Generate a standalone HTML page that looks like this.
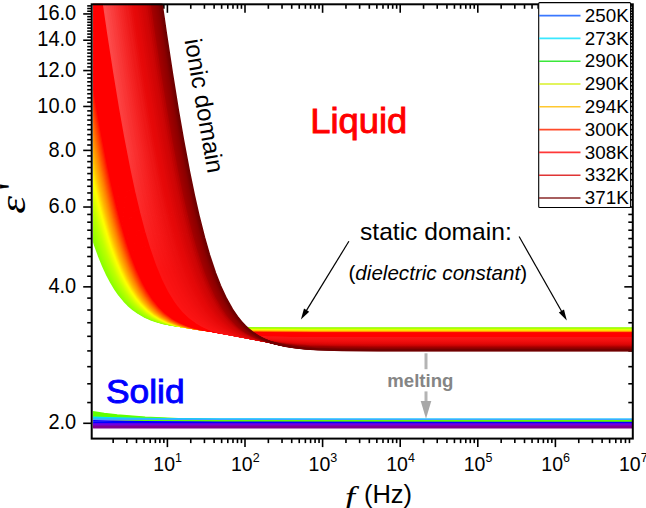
<!DOCTYPE html>
<html><head><meta charset="utf-8"><style>html,body{margin:0;padding:0;background:#fff;width:646px;height:508px;overflow:hidden}svg{display:block}</style></head>
<body><svg width="646" height="508" viewBox="0 0 646 508">
<defs><linearGradient id="hg0" gradientUnits="userSpaceOnUse" x1="0" y1="0" x2="0" y2="340"><stop offset="0" stop-color="#fd4f4f"/><stop offset="0.45" stop-color="#fc3a3a"/><stop offset="0.8" stop-color="#fc1414"/></linearGradient><linearGradient id="hg1" gradientUnits="userSpaceOnUse" x1="0" y1="0" x2="0" y2="340"><stop offset="0" stop-color="#fb4a4a"/><stop offset="0.45" stop-color="#fb3737"/><stop offset="0.8" stop-color="#fa1313"/></linearGradient><linearGradient id="hg2" gradientUnits="userSpaceOnUse" x1="0" y1="0" x2="0" y2="340"><stop offset="0" stop-color="#fb4646"/><stop offset="0.45" stop-color="#fb3434"/><stop offset="0.8" stop-color="#fa1313"/></linearGradient><linearGradient id="hg3" gradientUnits="userSpaceOnUse" x1="0" y1="0" x2="0" y2="340"><stop offset="0" stop-color="#f94141"/><stop offset="0.45" stop-color="#f93030"/><stop offset="0.8" stop-color="#f81212"/></linearGradient><linearGradient id="hg4" gradientUnits="userSpaceOnUse" x1="0" y1="0" x2="0" y2="340"><stop offset="0" stop-color="#f93d3d"/><stop offset="0.45" stop-color="#f92e2e"/><stop offset="0.8" stop-color="#f81212"/></linearGradient><linearGradient id="hg5" gradientUnits="userSpaceOnUse" x1="0" y1="0" x2="0" y2="340"><stop offset="0" stop-color="#f73838"/><stop offset="0.45" stop-color="#f72a2a"/><stop offset="0.8" stop-color="#f61111"/></linearGradient><linearGradient id="hg6" gradientUnits="userSpaceOnUse" x1="0" y1="0" x2="0" y2="340"><stop offset="0" stop-color="#f73333"/><stop offset="0.45" stop-color="#f72727"/><stop offset="0.8" stop-color="#f61111"/></linearGradient><linearGradient id="hg7" gradientUnits="userSpaceOnUse" x1="0" y1="0" x2="0" y2="340"><stop offset="0" stop-color="#f52e2e"/><stop offset="0.45" stop-color="#f52424"/><stop offset="0.8" stop-color="#f41010"/></linearGradient><linearGradient id="hg8" gradientUnits="userSpaceOnUse" x1="0" y1="0" x2="0" y2="340"><stop offset="0" stop-color="#f42929"/><stop offset="0.45" stop-color="#f42020"/><stop offset="0.8" stop-color="#f30f0f"/></linearGradient><linearGradient id="hg9" gradientUnits="userSpaceOnUse" x1="0" y1="0" x2="0" y2="340"><stop offset="0" stop-color="#f22525"/><stop offset="0.45" stop-color="#f21d1d"/><stop offset="0.8" stop-color="#f10f0f"/></linearGradient><linearGradient id="hg10" gradientUnits="userSpaceOnUse" x1="0" y1="0" x2="0" y2="340"><stop offset="0" stop-color="#f02020"/><stop offset="0.45" stop-color="#f01a1a"/><stop offset="0.8" stop-color="#ef0e0e"/></linearGradient><linearGradient id="hg11" gradientUnits="userSpaceOnUse" x1="0" y1="0" x2="0" y2="340"><stop offset="0" stop-color="#ee1b1b"/><stop offset="0.45" stop-color="#ee1616"/><stop offset="0.8" stop-color="#ed0d0d"/></linearGradient><linearGradient id="hg12" gradientUnits="userSpaceOnUse" x1="0" y1="0" x2="0" y2="340"><stop offset="0" stop-color="#ec1515"/><stop offset="0.45" stop-color="#eb1212"/><stop offset="0.8" stop-color="#eb0c0c"/></linearGradient><linearGradient id="hg13" gradientUnits="userSpaceOnUse" x1="0" y1="0" x2="0" y2="340"><stop offset="0" stop-color="#e90f0f"/><stop offset="0.45" stop-color="#e90d0d"/><stop offset="0.8" stop-color="#e90a0a"/></linearGradient><linearGradient id="hg14" gradientUnits="userSpaceOnUse" x1="0" y1="0" x2="0" y2="340"><stop offset="0" stop-color="#e70a0a"/><stop offset="0.45" stop-color="#e70909"/><stop offset="0.8" stop-color="#e70909"/></linearGradient><linearGradient id="hg15" gradientUnits="userSpaceOnUse" x1="0" y1="0" x2="0" y2="340"><stop offset="0" stop-color="#e50808"/><stop offset="0.45" stop-color="#e50808"/><stop offset="0.8" stop-color="#e50808"/></linearGradient><linearGradient id="hg16" gradientUnits="userSpaceOnUse" x1="0" y1="0" x2="0" y2="340"><stop offset="0" stop-color="#e20808"/><stop offset="0.45" stop-color="#e20808"/><stop offset="0.8" stop-color="#e20808"/></linearGradient><linearGradient id="hg17" gradientUnits="userSpaceOnUse" x1="0" y1="0" x2="0" y2="340"><stop offset="0" stop-color="#dd0707"/><stop offset="0.45" stop-color="#dd0707"/><stop offset="0.8" stop-color="#dd0707"/></linearGradient><linearGradient id="hg18" gradientUnits="userSpaceOnUse" x1="0" y1="0" x2="0" y2="340"><stop offset="0" stop-color="#d90606"/><stop offset="0.45" stop-color="#d90606"/><stop offset="0.8" stop-color="#d90606"/></linearGradient><linearGradient id="hg19" gradientUnits="userSpaceOnUse" x1="0" y1="0" x2="0" y2="340"><stop offset="0" stop-color="#d40505"/><stop offset="0.45" stop-color="#d40505"/><stop offset="0.8" stop-color="#d40505"/></linearGradient><linearGradient id="hg20" gradientUnits="userSpaceOnUse" x1="0" y1="0" x2="0" y2="340"><stop offset="0" stop-color="#d00505"/><stop offset="0.45" stop-color="#d00505"/><stop offset="0.8" stop-color="#d00505"/></linearGradient><linearGradient id="hg21" gradientUnits="userSpaceOnUse" x1="0" y1="0" x2="0" y2="340"><stop offset="0" stop-color="#ca0404"/><stop offset="0.45" stop-color="#ca0404"/><stop offset="0.8" stop-color="#ca0404"/></linearGradient><linearGradient id="hg22" gradientUnits="userSpaceOnUse" x1="0" y1="0" x2="0" y2="340"><stop offset="0" stop-color="#c00202"/><stop offset="0.45" stop-color="#c00202"/><stop offset="0.8" stop-color="#c00202"/></linearGradient><linearGradient id="hg23" gradientUnits="userSpaceOnUse" x1="0" y1="0" x2="0" y2="340"><stop offset="0" stop-color="#b50101"/><stop offset="0.45" stop-color="#b50101"/><stop offset="0.8" stop-color="#b50101"/></linearGradient><clipPath id="pc"><rect x="93.10000000000001" y="3.8" width="539.6999999999999" height="433.8"/></clipPath></defs>
<rect width="646" height="508" fill="#fff"/>
<g stroke="#000" stroke-width="1.6"><line x1="113.16" y1="438.60" x2="113.16" y2="443.10"/><line x1="113.16" y1="4.30" x2="113.16" y2="8.80"/><line x1="126.82" y1="438.60" x2="126.82" y2="443.10"/><line x1="126.82" y1="4.30" x2="126.82" y2="8.80"/><line x1="136.52" y1="438.60" x2="136.52" y2="443.10"/><line x1="136.52" y1="4.30" x2="136.52" y2="8.80"/><line x1="144.04" y1="438.60" x2="144.04" y2="443.10"/><line x1="144.04" y1="4.30" x2="144.04" y2="8.80"/><line x1="150.18" y1="438.60" x2="150.18" y2="443.10"/><line x1="150.18" y1="4.30" x2="150.18" y2="8.80"/><line x1="155.38" y1="438.60" x2="155.38" y2="443.10"/><line x1="155.38" y1="4.30" x2="155.38" y2="8.80"/><line x1="159.88" y1="438.60" x2="159.88" y2="443.10"/><line x1="159.88" y1="4.30" x2="159.88" y2="8.80"/><line x1="163.85" y1="438.60" x2="163.85" y2="443.10"/><line x1="163.85" y1="4.30" x2="163.85" y2="8.80"/><line x1="167.40" y1="438.60" x2="167.40" y2="447.10"/><line x1="167.40" y1="4.30" x2="167.40" y2="12.80"/><line x1="190.76" y1="438.60" x2="190.76" y2="443.10"/><line x1="190.76" y1="4.30" x2="190.76" y2="8.80"/><line x1="204.42" y1="438.60" x2="204.42" y2="443.10"/><line x1="204.42" y1="4.30" x2="204.42" y2="8.80"/><line x1="214.12" y1="438.60" x2="214.12" y2="443.10"/><line x1="214.12" y1="4.30" x2="214.12" y2="8.80"/><line x1="221.64" y1="438.60" x2="221.64" y2="443.10"/><line x1="221.64" y1="4.30" x2="221.64" y2="8.80"/><line x1="227.78" y1="438.60" x2="227.78" y2="443.10"/><line x1="227.78" y1="4.30" x2="227.78" y2="8.80"/><line x1="232.98" y1="438.60" x2="232.98" y2="443.10"/><line x1="232.98" y1="4.30" x2="232.98" y2="8.80"/><line x1="237.48" y1="438.60" x2="237.48" y2="443.10"/><line x1="237.48" y1="4.30" x2="237.48" y2="8.80"/><line x1="241.45" y1="438.60" x2="241.45" y2="443.10"/><line x1="241.45" y1="4.30" x2="241.45" y2="8.80"/><line x1="245.00" y1="438.60" x2="245.00" y2="447.10"/><line x1="245.00" y1="4.30" x2="245.00" y2="12.80"/><line x1="268.36" y1="438.60" x2="268.36" y2="443.10"/><line x1="268.36" y1="4.30" x2="268.36" y2="8.80"/><line x1="282.02" y1="438.60" x2="282.02" y2="443.10"/><line x1="282.02" y1="4.30" x2="282.02" y2="8.80"/><line x1="291.72" y1="438.60" x2="291.72" y2="443.10"/><line x1="291.72" y1="4.30" x2="291.72" y2="8.80"/><line x1="299.24" y1="438.60" x2="299.24" y2="443.10"/><line x1="299.24" y1="4.30" x2="299.24" y2="8.80"/><line x1="305.38" y1="438.60" x2="305.38" y2="443.10"/><line x1="305.38" y1="4.30" x2="305.38" y2="8.80"/><line x1="310.58" y1="438.60" x2="310.58" y2="443.10"/><line x1="310.58" y1="4.30" x2="310.58" y2="8.80"/><line x1="315.08" y1="438.60" x2="315.08" y2="443.10"/><line x1="315.08" y1="4.30" x2="315.08" y2="8.80"/><line x1="319.05" y1="438.60" x2="319.05" y2="443.10"/><line x1="319.05" y1="4.30" x2="319.05" y2="8.80"/><line x1="322.60" y1="438.60" x2="322.60" y2="447.10"/><line x1="322.60" y1="4.30" x2="322.60" y2="12.80"/><line x1="345.96" y1="438.60" x2="345.96" y2="443.10"/><line x1="345.96" y1="4.30" x2="345.96" y2="8.80"/><line x1="359.62" y1="438.60" x2="359.62" y2="443.10"/><line x1="359.62" y1="4.30" x2="359.62" y2="8.80"/><line x1="369.32" y1="438.60" x2="369.32" y2="443.10"/><line x1="369.32" y1="4.30" x2="369.32" y2="8.80"/><line x1="376.84" y1="438.60" x2="376.84" y2="443.10"/><line x1="376.84" y1="4.30" x2="376.84" y2="8.80"/><line x1="382.98" y1="438.60" x2="382.98" y2="443.10"/><line x1="382.98" y1="4.30" x2="382.98" y2="8.80"/><line x1="388.18" y1="438.60" x2="388.18" y2="443.10"/><line x1="388.18" y1="4.30" x2="388.18" y2="8.80"/><line x1="392.68" y1="438.60" x2="392.68" y2="443.10"/><line x1="392.68" y1="4.30" x2="392.68" y2="8.80"/><line x1="396.65" y1="438.60" x2="396.65" y2="443.10"/><line x1="396.65" y1="4.30" x2="396.65" y2="8.80"/><line x1="400.20" y1="438.60" x2="400.20" y2="447.10"/><line x1="400.20" y1="4.30" x2="400.20" y2="12.80"/><line x1="423.56" y1="438.60" x2="423.56" y2="443.10"/><line x1="423.56" y1="4.30" x2="423.56" y2="8.80"/><line x1="437.22" y1="438.60" x2="437.22" y2="443.10"/><line x1="437.22" y1="4.30" x2="437.22" y2="8.80"/><line x1="446.92" y1="438.60" x2="446.92" y2="443.10"/><line x1="446.92" y1="4.30" x2="446.92" y2="8.80"/><line x1="454.44" y1="438.60" x2="454.44" y2="443.10"/><line x1="454.44" y1="4.30" x2="454.44" y2="8.80"/><line x1="460.58" y1="438.60" x2="460.58" y2="443.10"/><line x1="460.58" y1="4.30" x2="460.58" y2="8.80"/><line x1="465.78" y1="438.60" x2="465.78" y2="443.10"/><line x1="465.78" y1="4.30" x2="465.78" y2="8.80"/><line x1="470.28" y1="438.60" x2="470.28" y2="443.10"/><line x1="470.28" y1="4.30" x2="470.28" y2="8.80"/><line x1="474.25" y1="438.60" x2="474.25" y2="443.10"/><line x1="474.25" y1="4.30" x2="474.25" y2="8.80"/><line x1="477.80" y1="438.60" x2="477.80" y2="447.10"/><line x1="477.80" y1="4.30" x2="477.80" y2="12.80"/><line x1="501.16" y1="438.60" x2="501.16" y2="443.10"/><line x1="501.16" y1="4.30" x2="501.16" y2="8.80"/><line x1="514.82" y1="438.60" x2="514.82" y2="443.10"/><line x1="514.82" y1="4.30" x2="514.82" y2="8.80"/><line x1="524.52" y1="438.60" x2="524.52" y2="443.10"/><line x1="524.52" y1="4.30" x2="524.52" y2="8.80"/><line x1="532.04" y1="438.60" x2="532.04" y2="443.10"/><line x1="532.04" y1="4.30" x2="532.04" y2="8.80"/><line x1="538.18" y1="438.60" x2="538.18" y2="443.10"/><line x1="538.18" y1="4.30" x2="538.18" y2="8.80"/><line x1="543.38" y1="438.60" x2="543.38" y2="443.10"/><line x1="543.38" y1="4.30" x2="543.38" y2="8.80"/><line x1="547.88" y1="438.60" x2="547.88" y2="443.10"/><line x1="547.88" y1="4.30" x2="547.88" y2="8.80"/><line x1="551.85" y1="438.60" x2="551.85" y2="443.10"/><line x1="551.85" y1="4.30" x2="551.85" y2="8.80"/><line x1="555.40" y1="438.60" x2="555.40" y2="447.10"/><line x1="555.40" y1="4.30" x2="555.40" y2="12.80"/><line x1="578.76" y1="438.60" x2="578.76" y2="443.10"/><line x1="578.76" y1="4.30" x2="578.76" y2="8.80"/><line x1="592.42" y1="438.60" x2="592.42" y2="443.10"/><line x1="592.42" y1="4.30" x2="592.42" y2="8.80"/><line x1="602.12" y1="438.60" x2="602.12" y2="443.10"/><line x1="602.12" y1="4.30" x2="602.12" y2="8.80"/><line x1="609.64" y1="438.60" x2="609.64" y2="443.10"/><line x1="609.64" y1="4.30" x2="609.64" y2="8.80"/><line x1="615.78" y1="438.60" x2="615.78" y2="443.10"/><line x1="615.78" y1="4.30" x2="615.78" y2="8.80"/><line x1="620.98" y1="438.60" x2="620.98" y2="443.10"/><line x1="620.98" y1="4.30" x2="620.98" y2="8.80"/><line x1="625.48" y1="438.60" x2="625.48" y2="443.10"/><line x1="625.48" y1="4.30" x2="625.48" y2="8.80"/><line x1="629.45" y1="438.60" x2="629.45" y2="443.10"/><line x1="629.45" y1="4.30" x2="629.45" y2="8.80"/><line x1="83.20" y1="423.30" x2="91.70" y2="423.30"/><line x1="632.80" y1="423.30" x2="624.30" y2="423.30"/><line x1="87.20" y1="402.56" x2="91.70" y2="402.56"/><line x1="632.80" y1="402.56" x2="628.30" y2="402.56"/><line x1="87.20" y1="383.80" x2="91.70" y2="383.80"/><line x1="632.80" y1="383.80" x2="628.30" y2="383.80"/><line x1="87.20" y1="366.67" x2="91.70" y2="366.67"/><line x1="632.80" y1="366.67" x2="628.30" y2="366.67"/><line x1="87.20" y1="350.91" x2="91.70" y2="350.91"/><line x1="632.80" y1="350.91" x2="628.30" y2="350.91"/><line x1="87.20" y1="336.32" x2="91.70" y2="336.32"/><line x1="632.80" y1="336.32" x2="628.30" y2="336.32"/><line x1="87.20" y1="322.74" x2="91.70" y2="322.74"/><line x1="632.80" y1="322.74" x2="628.30" y2="322.74"/><line x1="87.20" y1="310.03" x2="91.70" y2="310.03"/><line x1="632.80" y1="310.03" x2="628.30" y2="310.03"/><line x1="87.20" y1="298.10" x2="91.70" y2="298.10"/><line x1="632.80" y1="298.10" x2="628.30" y2="298.10"/><line x1="83.20" y1="286.85" x2="91.70" y2="286.85"/><line x1="632.80" y1="286.85" x2="624.30" y2="286.85"/><line x1="87.20" y1="276.20" x2="91.70" y2="276.20"/><line x1="632.80" y1="276.20" x2="628.30" y2="276.20"/><line x1="87.20" y1="266.10" x2="91.70" y2="266.10"/><line x1="632.80" y1="266.10" x2="628.30" y2="266.10"/><line x1="87.20" y1="256.50" x2="91.70" y2="256.50"/><line x1="632.80" y1="256.50" x2="628.30" y2="256.50"/><line x1="87.20" y1="247.34" x2="91.70" y2="247.34"/><line x1="632.80" y1="247.34" x2="628.30" y2="247.34"/><line x1="87.20" y1="238.59" x2="91.70" y2="238.59"/><line x1="632.80" y1="238.59" x2="628.30" y2="238.59"/><line x1="87.20" y1="230.21" x2="91.70" y2="230.21"/><line x1="632.80" y1="230.21" x2="628.30" y2="230.21"/><line x1="87.20" y1="222.18" x2="91.70" y2="222.18"/><line x1="632.80" y1="222.18" x2="628.30" y2="222.18"/><line x1="87.20" y1="214.45" x2="91.70" y2="214.45"/><line x1="632.80" y1="214.45" x2="628.30" y2="214.45"/><line x1="83.20" y1="207.02" x2="91.70" y2="207.02"/><line x1="632.80" y1="207.02" x2="624.30" y2="207.02"/><line x1="87.20" y1="199.86" x2="91.70" y2="199.86"/><line x1="632.80" y1="199.86" x2="628.30" y2="199.86"/><line x1="87.20" y1="192.96" x2="91.70" y2="192.96"/><line x1="632.80" y1="192.96" x2="628.30" y2="192.96"/><line x1="87.20" y1="186.28" x2="91.70" y2="186.28"/><line x1="632.80" y1="186.28" x2="628.30" y2="186.28"/><line x1="87.20" y1="179.83" x2="91.70" y2="179.83"/><line x1="632.80" y1="179.83" x2="628.30" y2="179.83"/><line x1="87.20" y1="173.58" x2="91.70" y2="173.58"/><line x1="632.80" y1="173.58" x2="628.30" y2="173.58"/><line x1="87.20" y1="167.52" x2="91.70" y2="167.52"/><line x1="632.80" y1="167.52" x2="628.30" y2="167.52"/><line x1="87.20" y1="161.64" x2="91.70" y2="161.64"/><line x1="632.80" y1="161.64" x2="628.30" y2="161.64"/><line x1="87.20" y1="155.94" x2="91.70" y2="155.94"/><line x1="632.80" y1="155.94" x2="628.30" y2="155.94"/><line x1="83.20" y1="150.39" x2="91.70" y2="150.39"/><line x1="632.80" y1="150.39" x2="624.30" y2="150.39"/><line x1="87.20" y1="145.00" x2="91.70" y2="145.00"/><line x1="632.80" y1="145.00" x2="628.30" y2="145.00"/><line x1="87.20" y1="139.75" x2="91.70" y2="139.75"/><line x1="632.80" y1="139.75" x2="628.30" y2="139.75"/><line x1="87.20" y1="134.63" x2="91.70" y2="134.63"/><line x1="632.80" y1="134.63" x2="628.30" y2="134.63"/><line x1="87.20" y1="129.65" x2="91.70" y2="129.65"/><line x1="632.80" y1="129.65" x2="628.30" y2="129.65"/><line x1="87.20" y1="124.79" x2="91.70" y2="124.79"/><line x1="632.80" y1="124.79" x2="628.30" y2="124.79"/><line x1="87.20" y1="120.04" x2="91.70" y2="120.04"/><line x1="632.80" y1="120.04" x2="628.30" y2="120.04"/><line x1="87.20" y1="115.41" x2="91.70" y2="115.41"/><line x1="632.80" y1="115.41" x2="628.30" y2="115.41"/><line x1="87.20" y1="110.88" x2="91.70" y2="110.88"/><line x1="632.80" y1="110.88" x2="628.30" y2="110.88"/><line x1="83.20" y1="106.46" x2="91.70" y2="106.46"/><line x1="632.80" y1="106.46" x2="624.30" y2="106.46"/><line x1="87.20" y1="102.13" x2="91.70" y2="102.13"/><line x1="632.80" y1="102.13" x2="628.30" y2="102.13"/><line x1="87.20" y1="97.90" x2="91.70" y2="97.90"/><line x1="632.80" y1="97.90" x2="628.30" y2="97.90"/><line x1="87.20" y1="93.75" x2="91.70" y2="93.75"/><line x1="632.80" y1="93.75" x2="628.30" y2="93.75"/><line x1="87.20" y1="89.70" x2="91.70" y2="89.70"/><line x1="632.80" y1="89.70" x2="628.30" y2="89.70"/><line x1="87.20" y1="85.72" x2="91.70" y2="85.72"/><line x1="632.80" y1="85.72" x2="628.30" y2="85.72"/><line x1="87.20" y1="81.82" x2="91.70" y2="81.82"/><line x1="632.80" y1="81.82" x2="628.30" y2="81.82"/><line x1="87.20" y1="78.00" x2="91.70" y2="78.00"/><line x1="632.80" y1="78.00" x2="628.30" y2="78.00"/><line x1="87.20" y1="74.25" x2="91.70" y2="74.25"/><line x1="632.80" y1="74.25" x2="628.30" y2="74.25"/><line x1="83.20" y1="70.57" x2="91.70" y2="70.57"/><line x1="632.80" y1="70.57" x2="624.30" y2="70.57"/><line x1="87.20" y1="66.95" x2="91.70" y2="66.95"/><line x1="632.80" y1="66.95" x2="628.30" y2="66.95"/><line x1="87.20" y1="63.41" x2="91.70" y2="63.41"/><line x1="632.80" y1="63.41" x2="628.30" y2="63.41"/><line x1="87.20" y1="59.92" x2="91.70" y2="59.92"/><line x1="632.80" y1="59.92" x2="628.30" y2="59.92"/><line x1="87.20" y1="56.50" x2="91.70" y2="56.50"/><line x1="632.80" y1="56.50" x2="628.30" y2="56.50"/><line x1="87.20" y1="53.13" x2="91.70" y2="53.13"/><line x1="632.80" y1="53.13" x2="628.30" y2="53.13"/><line x1="87.20" y1="49.83" x2="91.70" y2="49.83"/><line x1="632.80" y1="49.83" x2="628.30" y2="49.83"/><line x1="87.20" y1="46.57" x2="91.70" y2="46.57"/><line x1="632.80" y1="46.57" x2="628.30" y2="46.57"/><line x1="87.20" y1="43.37" x2="91.70" y2="43.37"/><line x1="632.80" y1="43.37" x2="628.30" y2="43.37"/><line x1="83.20" y1="40.22" x2="91.70" y2="40.22"/><line x1="632.80" y1="40.22" x2="624.30" y2="40.22"/><line x1="87.20" y1="37.12" x2="91.70" y2="37.12"/><line x1="632.80" y1="37.12" x2="628.30" y2="37.12"/><line x1="87.20" y1="34.07" x2="91.70" y2="34.07"/><line x1="632.80" y1="34.07" x2="628.30" y2="34.07"/><line x1="87.20" y1="31.06" x2="91.70" y2="31.06"/><line x1="632.80" y1="31.06" x2="628.30" y2="31.06"/><line x1="87.20" y1="28.10" x2="91.70" y2="28.10"/><line x1="632.80" y1="28.10" x2="628.30" y2="28.10"/><line x1="87.20" y1="25.18" x2="91.70" y2="25.18"/><line x1="632.80" y1="25.18" x2="628.30" y2="25.18"/><line x1="87.20" y1="22.31" x2="91.70" y2="22.31"/><line x1="632.80" y1="22.31" x2="628.30" y2="22.31"/><line x1="87.20" y1="19.48" x2="91.70" y2="19.48"/><line x1="632.80" y1="19.48" x2="628.30" y2="19.48"/><line x1="87.20" y1="16.69" x2="91.70" y2="16.69"/><line x1="632.80" y1="16.69" x2="628.30" y2="16.69"/><line x1="83.20" y1="13.93" x2="91.70" y2="13.93"/><line x1="632.80" y1="13.93" x2="624.30" y2="13.93"/><line x1="87.20" y1="11.22" x2="91.70" y2="11.22"/><line x1="632.80" y1="11.22" x2="628.30" y2="11.22"/><line x1="87.20" y1="8.54" x2="91.70" y2="8.54"/><line x1="632.80" y1="8.54" x2="628.30" y2="8.54"/><line x1="87.20" y1="5.90" x2="91.70" y2="5.90"/><line x1="632.80" y1="5.90" x2="628.30" y2="5.90"/></g><g clip-path="url(#pc)"><g fill="none" stroke-linejoin="round"><polyline points="92.2,236.5 95.2,245.6 99.2,256.6 103.2,266.4 107.2,275.0 111.2,282.5 115.2,289.1 119.2,294.9 124.2,300.9 128.2,305.1 133.2,309.4 138.2,312.9 144.2,316.4 150.2,319.1 156.2,321.2 163.2,323.1 170.2,324.5 182.2,326.1 197.2,327.2 215.2,327.9 240.2,328.3 306.2,328.5 632.2,328.5" stroke="#89ff00" stroke-width="2.2"/><polyline points="92.2,233.0 95.2,242.4 99.2,253.7 103.2,263.8 107.2,272.8 111.2,280.6 115.2,287.5 119.2,293.5 124.2,299.8 128.2,304.1 133.2,308.6 138.2,312.4 144.2,316.0 150.2,318.8 156.2,321.0 163.2,323.0 171.2,324.6 183.2,326.3 198.2,327.4 216.2,328.1 241.2,328.5 307.2,328.7 632.2,328.7" stroke="#90ff00" stroke-width="2.2"/><polyline points="92.2,229.3 95.2,239.0 99.2,250.7 103.2,261.2 107.2,270.5 111.2,278.6 115.2,285.8 119.2,292.0 124.2,298.6 128.2,303.1 133.2,307.8 138.2,311.7 144.2,315.5 150.2,318.5 156.2,320.8 163.2,322.9 171.2,324.6 183.2,326.3 198.2,327.5 216.2,328.3 241.2,328.7 307.2,328.9 632.2,328.9" stroke="#96ff00" stroke-width="2.2"/><polyline points="92.2,225.5 95.2,235.5 99.2,247.6 103.2,258.5 107.2,268.1 111.2,276.6 115.2,284.0 119.2,290.5 124.2,297.4 128.2,302.0 133.2,307.0 138.2,311.1 144.2,315.0 150.2,318.1 156.2,320.6 163.2,322.7 171.2,324.6 183.2,326.4 198.2,327.6 216.2,328.4 241.2,328.8 307.2,329.0 632.2,329.1" stroke="#9dff00" stroke-width="2.2"/><polyline points="92.2,221.6 95.2,231.9 99.2,244.4 103.2,255.6 107.2,265.6 111.2,274.4 115.2,282.1 119.2,288.8 124.2,296.0 128.2,300.9 133.2,306.1 138.2,310.4 144.2,314.5 150.2,317.8 156.2,320.3 163.2,322.6 171.2,324.5 183.2,326.4 198.2,327.7 216.2,328.6 241.2,329.0 307.2,329.2 632.2,329.2" stroke="#a3ff00" stroke-width="2.2"/><polyline points="92.2,217.6 99.2,241.1 103.2,252.7 107.2,263.0 111.2,272.1 115.2,280.1 119.2,287.2 124.2,294.7 128.2,299.8 133.2,305.2 138.2,309.6 144.2,314.0 150.2,317.4 156.2,320.1 163.2,322.4 171.2,324.5 183.2,326.4 198.2,327.9 216.2,328.7 241.2,329.2 307.2,329.4 632.2,329.4" stroke="#aaff00" stroke-width="2.2"/><polyline points="92.2,213.4 96.2,227.8 100.2,240.8 104.2,252.4 108.2,262.8 112.2,272.0 116.2,280.0 120.2,287.1 125.2,294.6 129.2,299.8 134.2,305.2 139.2,309.7 145.2,314.0 151.2,317.5 157.2,320.2 164.2,322.6 172.2,324.6 184.2,326.6 199.2,328.0 217.2,328.9 242.2,329.4 308.2,329.6 632.2,329.6" stroke="#b0ff00" stroke-width="2.2"/><polyline points="92.2,209.1 96.2,224.0 100.2,237.3 104.2,249.4 108.2,260.1 112.2,269.6 116.2,278.0 120.2,285.3 125.2,293.2 129.2,298.5 134.2,304.2 139.2,308.9 145.2,313.5 151.2,317.1 157.2,319.9 164.2,322.4 172.2,324.5 184.2,326.6 199.2,328.1 217.2,329.0 242.2,329.5 308.2,329.8 632.2,329.8" stroke="#b7ff00" stroke-width="2.2"/><polyline points="92.2,204.8 96.2,220.0 100.2,233.8 104.2,246.2 108.2,257.3 112.2,267.1 116.2,275.8 120.2,283.5 125.2,291.6 129.2,297.2 134.2,303.2 139.2,308.1 145.2,312.8 151.2,316.6 157.2,319.6 164.2,322.2 172.2,324.4 184.2,326.7 199.2,328.2 217.2,329.2 242.2,329.7 308.2,330.0 632.2,330.0" stroke="#bdff00" stroke-width="2.2"/><polyline points="92.2,200.2 96.2,215.9 100.2,230.1 104.2,242.9 108.2,254.4 112.2,264.6 116.2,273.6 120.2,281.5 125.2,290.0 130.2,297.2 135.2,303.2 140.2,308.1 146.2,312.9 152.2,316.7 158.2,319.7 165.2,322.4 173.2,324.6 185.2,326.8 200.2,328.4 218.2,329.3 243.2,329.9 309.2,330.1 632.2,330.2" stroke="#c6ff00" stroke-width="2.2"/><polyline points="92.2,195.6 96.2,211.7 100.2,226.3 104.2,239.5 108.2,251.4 112.2,261.9 117.2,273.4 121.2,281.4 126.2,290.0 130.2,295.8 135.2,302.1 140.2,307.2 146.2,312.2 152.2,316.2 158.2,319.3 165.2,322.1 173.2,324.5 185.2,326.8 200.2,328.5 218.2,329.5 243.2,330.0 309.2,330.3 632.2,330.3" stroke="#d0ff00" stroke-width="2.2"/><polyline points="92.2,190.8 96.2,207.3 100.2,222.4 104.2,236.0 108.2,248.2 112.2,259.2 117.2,271.1 121.2,279.4 126.2,288.3 130.2,294.4 135.2,300.9 140.2,306.3 146.2,311.5 152.2,315.7 158.2,319.0 165.2,321.9 173.2,324.4 179.2,325.8 185.2,326.8 200.2,328.6 218.2,329.6 243.2,330.2 309.2,330.5 632.2,330.5" stroke="#daff00" stroke-width="2.2"/><polyline points="92.2,186.0 96.2,202.9 100.2,218.3 104.2,232.3 108.2,245.0 112.2,256.3 117.2,268.7 121.2,277.3 126.2,286.5 130.2,292.9 135.2,299.7 140.2,305.3 146.2,310.8 152.2,315.2 158.2,318.6 165.2,321.7 173.2,324.3 179.2,325.7 185.2,326.8 200.2,328.7 218.2,329.8 243.2,330.4 309.2,330.7 632.2,330.7" stroke="#e5ff00" stroke-width="2.2"/><polyline points="92.2,180.9 96.2,198.3 100.2,214.2 104.2,228.6 108.2,241.6 112.2,253.3 117.2,266.1 121.2,275.1 126.2,284.7 131.2,292.8 136.2,299.6 141.2,305.3 147.2,310.8 153.2,315.2 159.2,318.7 166.2,321.8 174.2,324.4 180.2,325.8 186.2,327.0 201.2,328.8 219.2,329.9 244.2,330.6 309.2,330.9 632.2,330.9" stroke="#efff00" stroke-width="2.2"/><polyline points="92.2,175.8 96.2,193.6 100.2,209.9 104.2,224.7 109.2,241.3 113.2,253.0 118.2,265.9 122.2,274.9 127.2,284.6 132.2,292.8 137.2,299.6 142.2,305.3 147.2,310.1 153.2,314.6 159.2,318.3 166.2,321.5 174.2,324.2 180.2,325.8 186.2,327.0 193.2,328.0 201.2,328.9 219.2,330.1 244.2,330.7 309.2,331.0 632.2,331.1" stroke="#faff00" stroke-width="2.2"/><polyline points="92.2,170.6 96.2,188.7 100.2,205.5 104.2,220.7 109.2,237.8 113.2,250.0 118.2,263.3 122.2,272.6 127.2,282.7 132.2,291.2 137.2,298.3 142.2,304.3 147.2,309.2 153.2,314.0 159.2,317.8 166.2,321.2 174.2,324.1 180.2,325.7 186.2,327.0 193.2,328.1 201.2,329.0 219.2,330.2 244.2,330.9 309.2,331.2 632.2,331.3" stroke="#fff700" stroke-width="2.2"/><polyline points="92.2,165.2 96.2,183.8 100.2,201.0 104.2,216.6 109.2,234.2 113.2,246.8 118.2,260.6 122.2,270.2 127.2,280.7 132.2,289.5 137.2,297.0 142.2,303.2 148.2,309.3 154.2,314.1 160.2,317.9 167.2,321.4 175.2,324.3 181.2,325.9 187.2,327.1 194.2,328.2 202.2,329.2 220.2,330.4 245.2,331.1 310.2,331.4 632.2,331.5" stroke="#ffe600" stroke-width="2.2"/><polyline points="92.2,159.7 96.2,178.7 100.2,196.3 104.2,212.4 109.2,230.5 113.2,243.5 118.2,257.7 122.2,267.7 127.2,278.6 132.2,287.8 137.2,295.6 142.2,302.1 148.2,308.4 154.2,313.5 160.2,317.5 167.2,321.1 175.2,324.1 181.2,325.8 187.2,327.1 194.2,328.3 202.2,329.3 220.2,330.6 245.2,331.3 310.2,331.7 632.2,331.7" stroke="#ffd600" stroke-width="2.2"/><polyline points="92.2,154.1 97.2,178.2 101.2,195.8 105.2,212.0 110.2,230.2 114.2,243.2 119.2,257.5 123.2,267.5 128.2,278.5 133.2,287.7 138.2,295.5 143.2,302.1 149.2,308.5 155.2,313.6 161.2,317.6 168.2,321.2 175.2,323.9 181.2,325.7 187.2,327.1 194.2,328.3 202.2,329.4 220.2,330.7 245.2,331.5 310.2,331.9 632.2,331.9" stroke="#ffc500" stroke-width="2.2"/><polyline points="92.2,148.4 97.2,173.0 101.2,191.0 105.2,207.6 110.2,226.4 114.2,239.7 119.2,254.5 123.2,265.0 128.2,276.3 133.2,285.9 138.2,294.1 143.2,300.9 149.2,307.5 155.2,312.9 161.2,317.1 168.2,320.9 176.2,324.1 182.2,325.9 188.2,327.3 195.2,328.5 203.2,329.5 221.2,330.9 246.2,331.7 311.2,332.1 632.2,332.1" stroke="#ffb600" stroke-width="2.2"/><polyline points="92.2,142.5 97.2,167.6 101.2,186.1 105.2,203.2 110.2,222.4 114.2,236.2 119.2,251.5 123.2,262.3 128.2,274.0 133.2,284.0 138.2,292.5 143.2,299.6 149.2,306.6 155.2,312.1 161.2,316.5 168.2,320.5 176.2,323.9 182.2,325.8 188.2,327.2 195.2,328.5 203.2,329.6 221.2,331.1 246.2,331.9 311.2,332.3 632.2,332.3" stroke="#ffa900" stroke-width="2.2"/><polyline points="92.2,136.6 97.2,162.2 101.2,181.1 105.2,198.5 110.2,218.3 114.2,232.5 119.2,248.3 124.2,262.0 129.2,273.9 134.2,283.9 139.2,292.4 144.2,299.6 150.2,306.6 156.2,312.2 162.2,316.6 169.2,320.7 177.2,324.0 183.2,325.9 189.2,327.4 196.2,328.7 204.2,329.8 222.2,331.3 247.2,332.1 312.2,332.5 632.2,332.5" stroke="#ff9b00" stroke-width="2.2"/><polyline points="92.2,130.5 97.2,156.6 101.2,175.9 106.2,198.1 110.2,214.1 114.2,228.7 119.2,245.0 124.2,259.2 129.2,271.5 134.2,281.9 139.2,290.8 144.2,298.2 150.2,305.6 156.2,311.4 162.2,316.1 169.2,320.3 177.2,323.8 183.2,325.8 189.2,327.4 196.2,328.7 204.2,329.9 222.2,331.4 247.2,332.3 312.2,332.7 632.2,332.7" stroke="#ff8d00" stroke-width="2.2"/><polyline points="92.2,124.3 97.2,150.9 101.2,170.7 106.2,193.3 110.2,209.8 114.2,224.8 119.2,241.6 124.2,256.3 129.2,269.0 134.2,279.8 139.2,289.1 144.2,296.8 150.2,304.5 156.2,310.6 162.2,315.5 169.2,319.9 177.2,323.6 183.2,325.7 189.2,327.3 196.2,328.7 204.2,330.0 212.2,330.8 222.2,331.5 247.2,332.5 312.2,332.9 632.2,332.9" stroke="#ff7f00" stroke-width="2.2"/><polyline points="92.2,118.0 97.2,145.1 102.2,170.0 107.2,192.8 111.2,209.3 115.2,224.4 120.2,241.2 125.2,256.0 130.2,268.7 135.2,279.6 140.2,288.9 145.2,296.7 151.2,304.4 157.2,310.6 163.2,315.5 170.2,319.9 178.2,323.6 184.2,325.7 190.2,327.4 197.2,328.8 205.2,330.0 213.2,330.9 223.2,331.6 248.2,332.6 313.2,333.0 632.2,333.0" stroke="#ff6e00" stroke-width="2.2"/><polyline points="92.2,111.5 97.2,139.1 102.2,164.6 107.2,187.8 111.2,204.8 115.2,220.3 120.2,237.7 125.2,252.9 130.2,266.1 135.2,277.4 140.2,287.0 145.2,295.1 151.2,303.2 157.2,309.6 163.2,314.7 170.2,319.3 178.2,323.3 184.2,325.5 190.2,327.2 197.2,328.7 205.2,330.0 213.2,330.9 223.2,331.7 248.2,332.6 313.2,333.1 632.2,333.1" stroke="#ff5d00" stroke-width="2.2"/><polyline points="92.2,105.0 97.2,133.0 102.2,159.0 107.2,182.8 111.2,200.1 115.2,216.1 120.2,233.9 125.2,249.7 130.2,263.3 135.2,275.0 141.2,286.9 146.2,295.0 152.2,303.1 158.2,309.6 164.2,314.7 171.2,319.4 179.2,323.3 185.2,325.5 191.2,327.3 198.2,328.8 206.2,330.1 214.2,331.0 224.2,331.8 249.2,332.8 314.2,333.2 632.2,333.3" stroke="#ff4c00" stroke-width="2.2"/><polyline points="92.2,98.3 97.2,126.9 102.2,153.3 107.2,177.6 111.2,195.4 116.2,215.6 121.2,233.5 126.2,249.3 131.2,263.0 136.2,274.8 141.2,284.9 146.2,293.4 152.2,301.8 158.2,308.5 164.2,313.9 171.2,318.8 179.2,322.9 185.2,325.3 191.2,327.1 198.2,328.7 206.2,330.0 214.2,331.0 224.2,331.8 249.2,332.8 274.2,333.2 314.2,333.3 632.2,333.4" stroke="#ff3b00" stroke-width="2.2"/><polyline points="92.2,91.6 97.2,120.6 102.2,147.5 107.2,172.3 112.2,194.8 116.2,211.2 121.2,229.7 126.2,246.0 131.2,260.1 136.2,272.4 142.2,284.7 147.2,293.2 153.2,301.7 159.2,308.5 165.2,313.9 172.2,318.8 180.2,323.0 186.2,325.3 192.2,327.1 199.2,328.8 207.2,330.1 215.2,331.1 225.2,331.9 250.2,332.9 275.2,333.3 315.2,333.4 632.2,333.5" stroke="#ff2900" stroke-width="2.2"/><polyline points="92.2,84.7 97.2,114.1 102.2,141.6 107.2,166.9 112.2,189.9 116.2,206.8 121.2,225.7 126.2,242.5 131.2,257.2 136.2,269.8 142.2,282.6 147.2,291.5 153.2,300.3 159.2,307.4 165.2,313.1 172.2,318.2 176.2,320.6 180.2,322.6 186.2,325.0 192.2,326.9 199.2,328.6 207.2,330.1 215.2,331.1 225.2,332.0 250.2,333.0 275.2,333.4 315.2,333.6 632.2,333.6" stroke="#ff1400" stroke-width="2.2"/><polyline points="92.2,77.8 97.2,107.6 102.2,135.5 107.2,161.3 112.2,184.9 117.2,206.2 122.2,225.3 127.2,242.1 132.2,256.8 137.2,269.6 142.2,280.4 147.2,289.7 153.2,298.9 159.2,306.3 165.2,312.2 172.2,317.6 176.2,320.0 180.2,322.1 186.2,324.7 192.2,326.7 199.2,328.5 207.2,330.0 215.2,331.1 225.2,332.0 250.2,333.1 275.2,333.5 315.2,333.7 632.2,333.7" stroke="#ff0000" stroke-width="2.2"/><polyline points="92.2,70.7 97.2,101.0 102.2,129.4 107.2,155.7 112.2,179.8 117.2,201.7 122.2,221.2 127.2,238.6 132.2,253.8 137.2,267.0 143.2,280.3 148.2,289.6 154.2,298.9 160.2,306.3 166.2,312.3 173.2,317.7 177.2,320.1 181.2,322.3 187.2,324.9 193.2,326.9 200.2,328.7 208.2,330.2 216.2,331.3 226.2,332.2 251.2,333.3 276.2,333.7 316.2,333.9 632.2,333.9" stroke="#ff0000" stroke-width="2.2"/><polyline points="92.2,63.5 97.2,94.2 102.2,123.1 107.2,149.9 112.2,174.5 117.2,196.9 122.2,217.1 127.2,234.9 132.2,250.6 137.2,264.3 143.2,278.1 148.2,287.8 154.2,297.4 160.2,305.2 166.2,311.4 173.2,317.1 177.2,319.7 181.2,321.9 187.2,324.6 193.2,326.7 200.2,328.6 208.2,330.2 216.2,331.4 226.2,332.3 237.2,333.0 251.2,333.5 276.2,333.9 316.2,334.1 632.2,334.1" stroke="#ff0000" stroke-width="2.2"/><polyline points="92.2,56.2 98.2,93.4 103.2,122.3 108.2,149.2 113.2,173.9 118.2,196.4 123.2,216.6 128.2,234.6 133.2,250.3 138.2,264.0 144.2,278.0 149.2,287.7 155.2,297.4 161.2,305.2 167.2,311.5 174.2,317.2 178.2,319.8 182.2,322.0 188.2,324.8 194.2,326.9 201.2,328.8 209.2,330.4 217.2,331.6 227.2,332.5 238.2,333.2 252.2,333.7 277.2,334.2 317.2,334.3 632.2,334.4" stroke="#ff0000" stroke-width="2.2"/><polyline points="92.2,48.9 98.2,86.5 103.2,115.9 108.2,143.3 113.2,168.5 118.2,191.5 123.2,212.3 128.2,230.8 133.2,247.0 138.2,261.2 144.2,275.7 149.2,285.8 155.2,295.9 161.2,304.0 167.2,310.6 170.2,313.3 174.2,316.5 178.2,319.3 182.2,321.6 188.2,324.5 194.2,326.8 201.2,328.8 209.2,330.4 217.2,331.6 227.2,332.7 238.2,333.4 252.2,333.9 277.2,334.4 317.2,334.6 632.2,334.6" stroke="#ff0000" stroke-width="2.2"/><polyline points="92.2,41.4 98.2,79.6 103.2,109.4 108.2,137.3 113.2,163.0 118.2,186.6 123.2,207.8 128.2,226.8 134.2,246.7 139.2,261.0 145.2,275.5 150.2,285.7 156.2,295.8 162.2,304.0 168.2,310.6 171.2,313.4 175.2,316.6 179.2,319.4 183.2,321.8 189.2,324.7 195.2,326.9 202.2,328.9 210.2,330.6 218.2,331.8 228.2,332.9 239.2,333.6 253.2,334.2 278.2,334.6 318.2,334.8 632.2,334.8" stroke="#ff0000" stroke-width="2.2"/><polyline points="92.2,33.9 98.2,72.5 103.2,102.8 109.2,136.5 114.2,162.4 119.2,186.0 124.2,207.3 129.2,226.4 134.2,243.3 139.2,258.0 145.2,273.1 150.2,283.6 156.2,294.2 162.2,302.8 165.2,306.4 169.2,310.7 172.2,313.5 176.2,316.7 180.2,319.5 184.2,321.9 190.2,324.8 196.2,327.1 203.2,329.1 211.2,330.8 219.2,332.0 229.2,333.1 240.2,333.8 253.2,334.3 278.2,334.8 318.2,335.0 632.2,335.0" stroke="#ff0000" stroke-width="2.2"/><polyline points="92.2,26.2 98.2,65.3 103.2,96.1 109.2,130.4 114.2,156.7 119.2,180.9 124.2,202.7 129.2,222.4 135.2,242.9 140.2,257.8 146.2,272.9 151.2,283.5 157.2,294.2 163.2,302.8 166.2,306.4 170.2,310.7 173.2,313.5 177.2,316.8 184.2,321.5 190.2,324.5 196.2,326.9 203.2,329.0 211.2,330.8 219.2,332.1 229.2,333.2 240.2,334.0 254.2,334.6 279.2,335.0 319.2,335.2 632.2,335.3" stroke="#ff0000" stroke-width="2.2"/><polyline points="92.2,18.5 98.2,58.1 103.2,89.2 109.2,124.1 114.2,150.9 119.2,175.6 124.2,198.0 129.2,218.2 135.2,239.4 140.2,254.7 146.2,270.4 151.2,281.4 157.2,292.5 163.2,301.5 166.2,305.3 170.2,309.8 173.2,312.7 177.2,316.1 181.2,319.1 185.2,321.6 191.2,324.7 197.2,327.1 204.2,329.2 212.2,331.0 220.2,332.3 230.2,333.4 241.2,334.2 254.2,334.7 279.2,335.2 319.2,335.4 632.2,335.5" stroke="#ff0000" stroke-width="2.2"/><polyline points="92.2,10.7 103.2,82.3 109.2,117.7 114.2,145.0 120.2,175.0 125.2,197.5 130.2,217.7 135.2,235.7 140.2,251.5 146.2,267.7 151.2,279.2 157.2,290.7 163.2,300.1 166.2,304.1 170.2,308.7 173.2,311.8 177.2,315.4 181.2,318.5 185.2,321.1 191.2,324.3 197.2,326.9 204.2,329.1 212.2,331.0 220.2,332.4 230.2,333.5 241.2,334.4 254.2,334.9 279.2,335.4 319.2,335.7 632.2,335.7" stroke="#ff0000" stroke-width="2.2"/><polyline points="92.2,2.9 98.2,43.3 104.2,81.4 110.2,116.9 115.2,144.3 121.2,174.4 126.2,197.0 131.2,217.3 136.2,235.3 141.2,251.2 147.2,267.5 152.2,279.0 158.2,290.6 164.2,300.0 167.2,304.1 171.2,308.8 174.2,311.9 178.2,315.5 182.2,318.6 186.2,321.2 192.2,324.5 198.2,327.0 205.2,329.3 213.2,331.2 221.2,332.6 231.2,333.7 242.2,334.6 255.2,335.2 280.2,335.7 320.2,335.9 632.2,335.9" stroke="#ff0000" stroke-width="2.2"/><polyline points="92.2,-5.1 98.2,35.7 104.2,74.3 110.2,110.4 115.2,138.3 121.2,169.0 126.2,192.1 131.2,212.9 136.2,231.5 141.2,247.9 147.2,264.8 152.2,276.7 158.2,288.7 164.2,298.6 167.2,302.8 171.2,307.7 174.2,310.9 178.2,314.7 182.2,317.9 186.2,320.7 192.2,324.1 198.2,326.8 205.2,329.2 213.2,331.2 221.2,332.6 231.2,333.9 242.2,334.7 255.2,335.3 280.2,335.9 320.2,336.1 632.2,336.2" stroke="#ff0000" stroke-width="2.2"/><polyline points="93.2,-6.1 99.2,34.8 105.2,73.5 111.2,109.6 116.2,137.6 122.2,168.3 127.2,191.5 132.2,212.4 137.2,231.1 142.2,247.5 148.2,264.5 153.2,276.5 159.2,288.6 165.2,298.5 168.2,302.7 172.2,307.7 175.2,311.0 179.2,314.8 183.2,318.0 187.2,320.8 193.2,324.3 199.2,326.9 206.2,329.4 214.2,331.4 222.2,332.8 232.2,334.1 243.2,334.9 256.2,335.6 281.2,336.1 321.2,336.3 632.2,336.4" stroke="#ff0000" stroke-width="2.2"/><polyline points="94.2,-7.1 100.2,33.8 106.2,72.6 112.2,108.8 117.2,136.8 123.2,167.7 128.2,190.9 133.2,212.0 138.2,230.7 143.2,247.2 149.2,264.3 154.2,276.4 160.2,288.5 166.2,298.5 169.2,302.7 173.2,307.7 176.2,311.0 180.2,314.8 184.2,318.1 188.2,320.9 194.2,324.4 200.2,327.1 207.2,329.5 215.2,331.6 223.2,333.0 233.2,334.3 244.2,335.1 257.2,335.8 282.2,336.3 322.2,336.6 632.2,336.6" stroke="#ff0000" stroke-width="2.2"/><polyline points="95.2,-8.1 101.2,32.9 107.2,71.7 113.2,108.0 118.2,136.1 124.2,167.0 129.2,190.4 134.2,211.5 139.2,230.3 144.2,246.9 150.2,264.0 156.2,278.4 162.2,290.3 168.2,299.9 171.2,304.0 175.2,308.9 178.2,312.1 182.2,315.8 189.2,321.0 195.2,324.5 201.2,327.3 208.2,329.7 216.2,331.8 224.2,333.2 234.2,334.5 245.2,335.4 258.2,336.0 283.2,336.5 323.2,336.8 632.2,336.8" stroke="#ff0000" stroke-width="2.2"/><polyline points="96.2,-9.1 102.2,31.9 108.2,70.8 114.2,107.2 119.2,135.4 125.2,166.4 130.2,189.8 135.2,211.0 140.2,229.9 145.2,246.6 151.2,263.8 157.2,278.2 163.2,290.2 169.2,299.9 172.2,304.0 176.2,308.9 179.2,312.1 183.2,315.8 190.2,321.1 196.2,324.7 202.2,327.4 209.2,329.9 217.2,331.9 225.2,333.4 235.2,334.7 246.2,335.6 259.2,336.2 284.2,336.8 324.2,337.0 632.2,337.1" stroke="#ff0000" stroke-width="2.2"/><polyline points="97.2,-10.2 103.2,31.0 109.2,69.9 115.2,106.4 120.2,134.6 126.2,165.7 131.2,189.3 136.2,210.5 142.2,233.0 147.2,249.3 153.2,266.2 158.2,278.1 164.2,290.1 170.2,299.9 173.2,304.0 177.2,308.9 180.2,312.2 184.2,315.9 191.2,321.3 197.2,324.8 203.2,327.6 210.2,330.0 218.2,332.1 226.2,333.6 236.2,334.9 247.2,335.8 260.2,336.4 285.2,337.0 324.2,337.2 632.2,337.3" stroke="#ff0000" stroke-width="2.2"/><polyline points="98.2,-11.2 104.2,30.0 110.2,69.0 116.2,105.6 121.2,133.9 127.2,165.1 132.2,188.7 137.2,210.0 143.2,232.6 148.2,249.0 154.2,265.9 159.2,277.9 165.2,290.0 171.2,299.8 174.2,304.0 178.2,308.9 181.2,312.2 185.2,316.0 189.2,319.2 193.2,322.0 199.2,325.4 205.2,328.1 212.2,330.5 220.2,332.5 228.2,334.0 238.2,335.2 249.2,336.1 262.2,336.7 287.2,337.2 326.2,337.5 632.2,337.5" stroke="#ff0000" stroke-width="2.2"/><polyline points="100.2,-5.2 106.2,35.7 112.2,74.4 118.2,110.6 123.2,138.6 129.2,169.4 134.2,192.6 139.2,213.5 144.2,232.2 149.2,248.7 155.2,265.7 160.2,277.7 166.2,289.9 172.2,299.8 175.2,304.0 179.2,309.0 182.2,312.2 186.2,316.1 190.2,319.3 194.2,322.1 200.2,325.6 206.2,328.3 213.2,330.7 221.2,332.7 229.2,334.2 239.2,335.4 250.2,336.3 263.2,336.9 288.2,337.4 327.2,337.7 632.2,337.7" stroke="#ff0000" stroke-width="2.2"/><polyline points="101.2,-6.2 107.2,34.8 113.2,73.5 119.2,109.8 124.2,137.8 130.2,168.7 135.2,192.0 140.2,213.0 145.2,231.8 150.2,248.4 156.2,265.5 161.2,277.6 167.2,289.8 173.2,299.7 176.2,304.0 180.2,309.0 183.2,312.3 187.2,316.1 191.2,319.4 195.2,322.2 201.2,325.7 207.2,328.4 214.2,330.9 222.2,332.9 230.2,334.4 240.2,335.6 251.2,336.5 264.2,337.1 289.2,337.7 328.2,337.9 632.2,338.0" stroke="#ff0000" stroke-width="2.2"/><polyline points="102.2,-7.2 108.2,33.8 114.2,72.7 120.2,109.0 125.2,137.1 131.2,168.1 136.2,191.5 141.2,212.6 146.2,231.4 151.2,248.0 157.2,265.2 163.2,279.6 169.2,291.5 175.2,301.2 178.2,305.3 182.2,310.2 185.2,313.3 189.2,317.1 196.2,322.3 202.2,325.8 208.2,328.6 215.2,331.0 223.2,333.1 231.2,334.6 241.2,335.8 252.2,336.7 265.2,337.3 290.2,337.9 329.2,338.1 632.2,338.2" stroke="url(#hg0)" stroke-width="2.0"/><polyline points="103.2,-6.9 109.2,34.1 115.2,72.9 121.2,109.2 126.2,137.4 132.2,168.3 137.2,191.7 142.2,212.8 147.2,231.7 152.2,248.3 158.2,265.5 164.2,279.8 170.2,291.7 176.2,301.4 179.2,305.5 183.2,310.4 186.2,313.5 190.2,317.3 197.2,322.5 203.2,326.0 209.2,328.8 216.2,331.2 224.2,333.3 232.2,334.7 242.2,336.0 253.2,336.9 266.2,337.5 291.2,338.1 330.2,338.3 632.2,338.4" stroke="url(#hg0)" stroke-width="2.0"/><polyline points="104.2,-6.6 110.2,34.4 116.2,73.2 122.2,109.5 127.2,137.6 133.2,168.6 138.2,192.0 143.2,213.1 148.2,231.9 153.2,248.5 159.2,265.7 165.2,280.1 171.2,291.9 177.2,301.6 180.2,305.7 184.2,310.6 187.2,313.7 191.2,317.5 198.2,322.7 204.2,326.2 210.2,329.0 217.2,331.4 225.2,333.5 233.2,334.9 243.2,336.2 254.2,337.1 267.2,337.7 292.2,338.3 331.2,338.5 632.2,338.6" stroke="url(#hg0)" stroke-width="2.0"/><polyline points="105.2,-6.4 111.2,34.7 117.2,73.5 123.2,109.8 128.2,137.9 134.2,168.9 139.2,192.2 144.2,213.3 149.2,232.1 154.2,248.7 160.2,265.9 166.2,280.3 172.2,292.1 178.2,301.8 181.2,305.9 185.2,310.8 188.2,313.9 192.2,317.7 199.2,322.9 205.2,326.4 211.2,329.2 218.2,331.6 226.2,333.7 234.2,335.1 244.2,336.4 255.2,337.3 268.2,337.9 293.2,338.5 332.2,338.7 632.2,338.7" stroke="url(#hg1)" stroke-width="2.0"/><polyline points="106.2,-6.1 112.2,35.0 118.2,73.8 124.2,110.1 129.2,138.2 135.2,169.1 140.2,192.5 145.2,213.6 150.2,232.4 155.2,249.0 161.2,266.1 167.2,280.5 173.2,292.3 179.2,302.0 182.2,306.1 186.2,311.0 189.2,314.1 193.2,317.9 200.2,323.1 206.2,326.6 212.2,329.3 219.2,331.8 227.2,333.8 235.2,335.3 245.2,336.6 256.2,337.5 269.2,338.1 294.2,338.6 333.2,338.9 632.2,338.9" stroke="url(#hg1)" stroke-width="2.0"/><polyline points="107.2,-5.8 113.2,35.2 119.2,74.0 125.2,110.3 130.2,138.4 136.2,169.4 141.2,192.7 146.2,213.8 151.2,232.6 156.2,249.2 162.2,266.4 168.2,280.7 174.2,292.6 180.2,302.2 183.2,306.3 187.2,311.2 190.2,314.4 194.2,318.1 201.2,323.3 207.2,326.8 213.2,329.5 220.2,332.0 228.2,334.0 236.2,335.5 246.2,336.8 257.2,337.6 270.2,338.3 295.2,338.8 334.2,339.1 632.2,339.1" stroke="url(#hg2)" stroke-width="2.0"/><polyline points="108.2,-5.5 114.2,35.5 120.2,74.3 126.2,110.6 131.2,138.7 137.2,169.6 142.2,193.0 147.2,214.0 152.2,232.8 157.2,249.4 163.2,266.6 169.2,280.9 175.2,292.8 181.2,302.4 184.2,306.5 188.2,311.4 191.2,314.6 195.2,318.3 202.2,323.5 208.2,327.0 214.2,329.7 221.2,332.2 229.2,334.2 237.2,335.7 247.2,336.9 258.2,337.8 271.2,338.5 296.2,339.0 335.2,339.2 632.2,339.3" stroke="url(#hg2)" stroke-width="2.0"/><polyline points="109.2,-5.2 115.2,35.8 121.2,74.6 127.2,110.9 132.2,139.0 138.2,169.9 143.2,193.2 148.2,214.3 153.2,233.1 158.2,249.7 164.2,266.8 170.2,281.1 176.2,293.0 182.2,302.6 185.2,306.8 189.2,311.6 192.2,314.8 196.2,318.5 203.2,323.7 209.2,327.2 215.2,329.9 222.2,332.4 230.2,334.4 238.2,335.9 248.2,337.1 259.2,338.0 272.2,338.6 297.2,339.2 336.2,339.4 632.2,339.5" stroke="url(#hg3)" stroke-width="2.0"/><polyline points="109.2,-11.9 115.2,29.4 121.2,68.6 127.2,105.3 133.2,139.2 139.2,170.1 144.2,193.5 149.2,214.5 154.2,233.3 159.2,249.9 165.2,267.0 170.2,279.2 176.2,291.4 182.2,301.4 185.2,305.6 189.2,310.6 192.2,313.9 196.2,317.8 203.2,323.3 209.2,326.9 215.2,329.7 222.2,332.3 230.2,334.4 238.2,335.9 248.2,337.2 259.2,338.1 272.2,338.8 297.2,339.4 336.2,339.6 632.2,339.7" stroke="url(#hg3)" stroke-width="2.0"/><polyline points="110.2,-11.6 116.2,29.7 122.2,68.9 128.2,105.6 134.2,139.5 140.2,170.4 145.2,193.7 150.2,214.8 155.2,233.6 160.2,250.1 166.2,267.3 171.2,279.4 177.2,291.6 183.2,301.6 186.2,305.8 190.2,310.8 193.2,314.1 197.2,318.0 204.2,323.5 210.2,327.1 216.2,329.9 223.2,332.4 231.2,334.6 239.2,336.1 249.2,337.4 260.2,338.3 273.2,339.0 298.2,339.6 337.2,339.8 632.2,339.9" stroke="url(#hg4)" stroke-width="2.0"/><polyline points="111.2,-11.4 117.2,30.0 123.2,69.1 129.2,105.8 135.2,139.8 141.2,170.7 146.2,194.0 151.2,215.0 156.2,233.8 161.2,250.4 167.2,267.5 172.2,279.6 178.2,291.8 184.2,301.8 187.2,306.1 191.2,311.1 194.2,314.3 198.2,318.2 205.2,323.6 211.2,327.3 217.2,330.1 224.2,332.6 232.2,334.8 240.2,336.3 250.2,337.6 261.2,338.5 274.2,339.2 299.2,339.8 338.2,340.0 632.2,340.1" stroke="url(#hg4)" stroke-width="2.0"/><polyline points="112.2,-11.1 118.2,30.3 124.2,69.4 130.2,106.1 136.2,140.0 142.2,170.9 147.2,194.2 152.2,215.3 157.2,234.0 162.2,250.6 168.2,267.7 173.2,279.8 179.2,292.0 185.2,302.0 188.2,306.3 192.2,311.3 195.2,314.5 199.2,318.4 206.2,323.8 212.2,327.5 218.2,330.3 225.2,332.8 233.2,335.0 241.2,336.5 251.2,337.8 262.2,338.7 274.2,339.3 299.2,339.9 338.2,340.2 632.2,340.2" stroke="url(#hg5)" stroke-width="2.0"/><polyline points="113.2,-10.8 119.2,30.5 125.2,69.7 131.2,106.4 137.2,140.3 143.2,171.2 148.2,194.5 153.2,215.5 158.2,234.3 163.2,250.8 169.2,267.9 174.2,280.0 180.2,292.2 186.2,302.2 189.2,306.5 193.2,311.5 196.2,314.8 200.2,318.6 207.2,324.0 213.2,327.7 219.2,330.5 226.2,333.0 234.2,335.2 242.2,336.7 252.2,338.0 263.2,338.9 275.2,339.5 300.2,340.1 339.2,340.4 632.2,340.4" stroke="url(#hg5)" stroke-width="2.0"/><polyline points="114.2,-10.5 120.2,30.8 126.2,70.0 132.2,106.7 138.2,140.6 144.2,171.4 149.2,194.7 154.2,215.8 159.2,234.5 164.2,251.1 170.2,268.2 175.2,280.3 181.2,292.5 187.2,302.4 190.2,306.7 194.2,311.7 197.2,315.0 201.2,318.8 208.2,324.2 214.2,327.8 220.2,330.7 227.2,333.2 235.2,335.3 243.2,336.9 253.2,338.2 264.2,339.1 276.2,339.7 301.2,340.3 339.2,340.6 632.2,340.6" stroke="url(#hg6)" stroke-width="2.0"/><polyline points="115.2,-10.2 121.2,31.1 127.2,70.3 133.2,106.9 139.2,140.8 145.2,171.7 150.2,195.0 155.2,216.0 160.2,234.8 165.2,251.3 171.2,268.4 176.2,280.5 182.2,292.7 188.2,302.6 191.2,306.9 195.2,311.9 198.2,315.2 202.2,319.0 209.2,324.4 215.2,328.0 221.2,330.9 228.2,333.4 236.2,335.5 244.2,337.1 254.2,338.4 265.2,339.3 277.2,339.9 302.2,340.5 340.2,340.7 632.2,340.8" stroke="url(#hg6)" stroke-width="2.0"/><polyline points="116.2,-9.9 122.2,31.4 128.2,70.5 134.2,107.2 140.2,141.1 146.2,172.0 151.2,195.2 156.2,216.3 161.2,235.0 166.2,251.5 172.2,268.6 177.2,280.7 183.2,292.9 189.2,302.8 192.2,307.1 196.2,312.1 199.2,315.4 203.2,319.2 210.2,324.6 216.2,328.2 222.2,331.1 229.2,333.6 237.2,335.7 245.2,337.2 255.2,338.5 266.2,339.5 278.2,340.1 303.2,340.7 341.2,340.9 632.2,341.0" stroke="url(#hg7)" stroke-width="2.0"/><polyline points="117.2,-9.6 123.2,31.7 129.2,70.8 135.2,107.5 141.2,141.4 147.2,172.2 152.2,195.5 157.2,216.5 162.2,235.2 167.2,251.8 173.2,268.8 178.2,280.9 184.2,293.1 190.2,303.1 193.2,307.3 197.2,312.3 200.2,315.6 204.2,319.4 211.2,324.8 217.2,328.4 223.2,331.3 230.2,333.8 238.2,335.9 246.2,337.4 256.2,338.7 267.2,339.7 279.2,340.3 304.2,340.9 342.2,341.1 632.2,341.2" stroke="url(#hg7)" stroke-width="2.0"/><polyline points="118.2,-9.3 124.2,32.0 130.2,71.1 136.2,107.8 142.2,141.6 148.2,172.5 153.2,195.7 158.2,216.7 163.2,235.5 168.2,252.0 174.2,269.1 179.2,281.1 185.2,293.3 191.2,303.3 194.2,307.5 198.2,312.5 201.2,315.8 205.2,319.6 212.2,325.0 218.2,328.6 224.2,331.5 231.2,334.0 239.2,336.1 247.2,337.6 257.2,338.9 268.2,339.8 280.2,340.5 305.2,341.1 343.2,341.3 632.2,341.4" stroke="url(#hg8)" stroke-width="2.0"/><polyline points="119.2,-9.0 125.2,32.3 131.2,71.4 137.2,108.0 143.2,141.9 149.2,172.7 154.2,196.0 159.2,217.0 164.2,235.7 169.2,252.2 175.2,269.3 180.2,281.4 186.2,293.5 192.2,303.5 195.2,307.7 199.2,312.7 202.2,316.0 206.2,319.8 213.2,325.2 219.2,328.8 225.2,331.6 232.2,334.2 240.2,336.3 248.2,337.8 258.2,339.1 269.2,340.0 281.2,340.6 306.2,341.2 344.2,341.5 632.2,341.6" stroke="url(#hg8)" stroke-width="2.0"/><polyline points="120.2,-8.7 126.2,32.5 132.2,71.7 138.2,108.3 144.2,142.2 150.2,173.0 155.2,196.2 160.2,217.2 165.2,236.0 170.2,252.5 176.2,269.5 181.2,281.6 187.2,293.7 193.2,303.7 196.2,307.9 200.2,312.9 203.2,316.2 207.2,320.0 214.2,325.4 220.2,329.0 226.2,331.8 233.2,334.4 241.2,336.5 249.2,338.0 259.2,339.3 270.2,340.2 282.2,340.8 307.2,341.4 345.2,341.7 632.2,341.7" stroke="url(#hg9)" stroke-width="2.0"/><polyline points="121.2,-8.5 127.2,32.8 133.2,71.9 139.2,108.6 145.2,142.4 151.2,173.2 156.2,196.5 161.2,217.5 166.2,236.2 171.2,252.7 177.2,269.7 182.2,281.8 188.2,294.0 194.2,303.9 197.2,308.1 201.2,313.1 204.2,316.4 208.2,320.2 215.2,325.6 221.2,329.2 227.2,332.0 234.2,334.6 242.2,336.7 250.2,338.2 260.2,339.5 271.2,340.4 283.2,341.0 308.2,341.6 346.2,341.9 632.2,341.9" stroke="url(#hg9)" stroke-width="2.0"/><polyline points="122.2,-8.2 128.2,33.1 134.2,72.2 140.2,108.8 145.2,137.3 151.2,168.6 156.2,192.3 161.2,213.7 166.2,232.9 171.2,249.8 177.2,267.3 182.2,279.8 188.2,292.3 194.2,302.6 197.2,307.0 201.2,312.1 204.2,315.5 208.2,319.5 215.2,325.1 221.2,328.9 227.2,331.8 234.2,334.4 242.2,336.6 250.2,338.2 260.2,339.6 271.2,340.5 283.2,341.2 308.2,341.8 346.2,342.1 632.2,342.1" stroke="url(#hg10)" stroke-width="2.0"/><polyline points="123.2,-7.9 129.2,33.4 135.2,72.5 141.2,109.1 146.2,137.5 152.2,168.8 157.2,192.5 162.2,214.0 167.2,233.1 172.2,250.0 178.2,267.6 183.2,280.0 189.2,292.5 195.2,302.8 198.2,307.2 202.2,312.3 205.2,315.7 209.2,319.7 216.2,325.3 222.2,329.1 228.2,332.0 235.2,334.6 243.2,336.8 251.2,338.4 261.2,339.8 272.2,340.7 284.2,341.4 309.2,342.0 347.2,342.2 632.2,342.3" stroke="url(#hg10)" stroke-width="2.0"/><polyline points="124.2,-7.6 130.2,33.7 136.2,72.8 142.2,109.4 147.2,137.8 153.2,169.1 158.2,192.8 163.2,214.2 168.2,233.4 173.2,250.3 179.2,267.8 184.2,280.2 190.2,292.7 196.2,303.0 199.2,307.4 203.2,312.5 206.2,315.9 210.2,319.9 217.2,325.5 223.2,329.3 229.2,332.2 236.2,334.8 244.2,337.0 252.2,338.6 262.2,340.0 273.2,340.9 285.2,341.5 310.2,342.2 348.2,342.4 632.2,342.5" stroke="url(#hg11)" stroke-width="2.0"/><polyline points="125.2,-7.3 131.2,34.0 137.2,73.1 143.2,109.7 148.2,138.1 154.2,169.4 159.2,193.0 164.2,214.5 169.2,233.6 174.2,250.5 180.2,268.0 185.2,280.4 191.2,293.0 197.2,303.2 200.2,307.6 204.2,312.7 207.2,316.1 211.2,320.1 218.2,325.7 224.2,329.5 230.2,332.4 237.2,335.0 245.2,337.2 253.2,338.8 263.2,340.1 274.2,341.1 286.2,341.7 311.2,342.4 349.2,342.6 632.2,342.7" stroke="url(#hg11)" stroke-width="2.0"/><polyline points="126.2,-7.0 132.2,34.2 138.2,73.3 144.2,109.9 149.2,138.3 155.2,169.6 160.2,193.3 165.2,214.7 170.2,233.8 175.2,250.7 181.2,268.2 186.2,280.6 192.2,293.2 198.2,303.4 201.2,307.8 205.2,312.9 208.2,316.3 212.2,320.3 219.2,325.9 225.2,329.7 231.2,332.6 238.2,335.2 246.2,337.4 254.2,339.0 264.2,340.3 275.2,341.3 287.2,341.9 312.2,342.5 350.2,342.8 632.2,342.9" stroke="url(#hg11)" stroke-width="2.0"/><polyline points="127.2,-6.7 133.2,34.5 139.2,73.6 145.2,110.2 150.2,138.6 156.2,169.9 161.2,193.5 166.2,214.9 171.2,234.1 176.2,251.0 182.2,268.5 187.2,280.9 193.2,293.4 199.2,303.6 202.2,308.0 206.2,313.2 209.2,316.5 213.2,320.5 220.2,326.1 226.2,329.8 232.2,332.8 239.2,335.4 247.2,337.6 255.2,339.2 265.2,340.5 276.2,341.5 288.2,342.1 313.2,342.7 351.2,343.0 632.2,343.1" stroke="url(#hg12)" stroke-width="2.0"/><polyline points="128.2,-6.4 134.2,34.8 140.2,73.9 146.2,110.5 151.2,138.9 157.2,170.1 162.2,193.8 167.2,215.2 172.2,234.3 177.2,251.2 183.2,268.7 188.2,281.1 194.2,293.6 200.2,303.8 203.2,308.2 207.2,313.4 210.2,316.7 214.2,320.7 221.2,326.3 227.2,330.0 233.2,333.0 240.2,335.6 248.2,337.8 256.2,339.4 266.2,340.7 277.2,341.7 289.2,342.3 314.2,342.9 352.2,343.2 632.2,343.2" stroke="url(#hg12)" stroke-width="2.0"/><polyline points="129.2,-6.1 135.2,35.1 141.2,74.2 147.2,110.8 152.2,139.1 158.2,170.4 163.2,194.1 168.2,215.4 173.2,234.6 178.2,251.4 184.2,268.9 189.2,281.3 195.2,293.8 201.2,304.1 204.2,308.4 208.2,313.6 211.2,316.9 215.2,320.9 222.2,326.5 228.2,330.2 234.2,333.2 241.2,335.8 249.2,338.0 257.2,339.5 267.2,340.9 278.2,341.8 290.2,342.5 315.2,343.1 353.2,343.4 632.2,343.4" stroke="url(#hg13)" stroke-width="2.0"/><polyline points="130.2,-5.8 136.2,35.4 142.2,74.5 148.2,111.0 153.2,139.4 159.2,170.7 164.2,194.3 169.2,215.7 174.2,234.8 179.2,251.7 185.2,269.1 190.2,281.5 196.2,294.0 202.2,304.3 205.2,308.6 209.2,313.8 212.2,317.1 216.2,321.1 223.2,326.7 229.2,330.4 235.2,333.4 242.2,336.0 250.2,338.2 258.2,339.7 268.2,341.1 279.2,342.0 291.2,342.7 315.2,343.3 353.2,343.6 632.2,343.6" stroke="url(#hg13)" stroke-width="2.0"/><polyline points="131.2,-5.6 137.2,35.7 143.2,74.7 149.2,111.3 154.2,139.7 160.2,170.9 165.2,194.6 170.2,215.9 175.2,235.0 180.2,251.9 186.2,269.4 191.2,281.7 197.2,294.2 203.2,304.5 206.2,308.8 210.2,314.0 213.2,317.4 217.2,321.3 224.2,326.9 230.2,330.6 236.2,333.6 243.2,336.2 250.2,338.1 258.2,339.8 268.2,341.2 279.2,342.2 291.2,342.8 316.2,343.5 353.2,343.7 632.2,343.8" stroke="url(#hg14)" stroke-width="2.0"/><polyline points="132.2,-5.3 138.2,36.0 144.2,75.0 150.2,111.6 155.2,139.9 161.2,171.2 166.2,194.8 171.2,216.2 176.2,235.3 181.2,252.1 187.2,269.6 192.2,282.0 198.2,294.5 204.2,304.7 207.2,309.0 211.2,314.2 214.2,317.6 218.2,321.5 225.2,327.1 231.2,330.8 237.2,333.7 244.2,336.4 251.2,338.3 259.2,340.0 269.2,341.4 280.2,342.3 292.2,343.0 317.2,343.7 354.2,343.9 632.2,344.0" stroke="url(#hg14)" stroke-width="2.0"/><polyline points="132.2,-12.0 138.2,29.5 144.2,68.9 150.2,105.9 155.2,134.7 161.2,166.5 166.2,190.5 171.2,212.3 176.2,231.9 181.2,249.2 187.2,267.1 192.2,279.9 198.2,292.8 204.2,303.3 207.2,307.9 211.2,313.2 214.2,316.7 218.2,320.8 225.2,326.6 231.2,330.5 237.2,333.5 244.2,336.2 251.2,338.3 259.2,340.0 269.2,341.4 280.2,342.5 292.2,343.2 317.2,343.8 354.2,344.1 632.2,344.2" stroke="url(#hg15)" stroke-width="2.0"/><polyline points="133.2,-11.7 139.2,29.8 145.2,69.2 151.2,106.2 156.2,135.0 162.2,166.7 167.2,190.8 172.2,212.6 177.2,232.1 182.2,249.4 188.2,267.3 193.2,280.1 199.2,293.0 205.2,303.5 208.2,308.1 212.2,313.4 215.2,316.9 219.2,321.0 226.2,326.8 232.2,330.7 238.2,333.7 245.2,336.4 252.2,338.5 260.2,340.2 270.2,341.6 281.2,342.6 293.2,343.3 318.2,344.0 355.2,344.3 632.2,344.4" stroke="url(#hg15)" stroke-width="2.0"/><polyline points="134.2,-11.4 140.2,30.1 146.2,69.5 152.2,106.5 157.2,135.2 163.2,167.0 168.2,191.0 173.2,212.8 178.2,232.4 183.2,249.6 189.2,267.6 194.2,280.3 200.2,293.2 206.2,303.8 209.2,308.3 213.2,313.6 216.2,317.1 220.2,321.2 227.2,327.0 233.2,330.9 239.2,333.9 246.2,336.6 253.2,338.6 261.2,340.3 271.2,341.8 282.2,342.8 294.2,343.5 319.2,344.2 356.2,344.5 632.2,344.6" stroke="url(#hg16)" stroke-width="2.0"/><polyline points="135.2,-11.2 141.2,30.4 147.2,69.8 153.2,106.8 158.2,135.5 164.2,167.2 169.2,191.3 174.2,213.1 179.2,232.6 184.2,249.9 190.2,267.8 195.2,280.5 201.2,293.4 207.2,304.0 210.2,308.5 214.2,313.8 217.2,317.3 221.2,321.4 228.2,327.2 234.2,331.1 240.2,334.1 247.2,336.8 254.2,338.8 262.2,340.5 272.2,342.0 283.2,343.0 295.2,343.7 320.2,344.4 357.2,344.7 632.2,344.7" stroke="url(#hg16)" stroke-width="2.0"/><polyline points="136.2,-10.9 142.2,30.7 148.2,70.1 154.2,107.0 159.2,135.8 165.2,167.5 170.2,191.5 175.2,213.3 180.2,232.8 185.2,250.1 191.2,268.0 196.2,280.8 202.2,293.6 208.2,304.2 211.2,308.7 215.2,314.0 218.2,317.5 222.2,321.6 229.2,327.4 235.2,331.2 241.2,334.3 248.2,337.0 255.2,339.0 263.2,340.7 273.2,342.2 284.2,343.2 296.2,343.9 321.2,344.6 358.2,344.9 632.2,344.9" stroke="url(#hg17)" stroke-width="2.0"/><polyline points="137.2,-10.6 143.2,30.9 149.2,70.3 155.2,107.3 160.2,136.0 166.2,167.8 171.2,191.8 176.2,213.6 181.2,233.1 186.2,250.4 192.2,268.3 197.2,281.0 203.2,293.8 209.2,304.4 212.2,308.9 216.2,314.2 219.2,317.7 223.2,321.8 230.2,327.6 236.2,331.4 242.2,334.5 249.2,337.2 256.2,339.2 264.2,340.9 274.2,342.4 285.2,343.4 297.2,344.1 322.2,344.8 359.2,345.0 632.2,345.1" stroke="url(#hg17)" stroke-width="2.0"/><polyline points="138.2,-10.3 144.2,31.2 150.2,70.6 156.2,107.6 161.2,136.3 167.2,168.0 172.2,192.0 177.2,213.8 182.2,233.3 187.2,250.6 193.2,268.5 198.2,281.2 204.2,294.1 210.2,304.6 213.2,309.1 217.2,314.4 220.2,317.9 224.2,322.0 231.2,327.8 237.2,331.6 243.2,334.7 250.2,337.4 257.2,339.4 265.2,341.1 275.2,342.6 286.2,343.6 298.2,344.3 323.2,345.0 360.2,345.2 632.2,345.3" stroke="url(#hg18)" stroke-width="2.0"/><polyline points="139.2,-10.0 145.2,31.5 151.2,70.9 157.2,107.9 162.2,136.6 168.2,168.3 173.2,192.3 178.2,214.1 183.2,233.6 188.2,250.8 194.2,268.7 199.2,281.4 205.2,294.3 211.2,304.8 214.2,309.3 218.2,314.6 221.2,318.1 225.2,322.2 232.2,328.0 238.2,331.8 244.2,334.9 251.2,337.6 258.2,339.6 266.2,341.3 276.2,342.8 287.2,343.8 299.2,344.5 324.2,345.1 361.2,345.4 632.2,345.5" stroke="url(#hg18)" stroke-width="2.0"/><polyline points="140.2,-9.7 146.2,31.8 152.2,71.2 158.2,108.1 163.2,136.8 169.2,168.5 174.2,192.6 179.2,214.3 184.2,233.8 189.2,251.1 195.2,268.9 200.2,281.6 206.2,294.5 212.2,305.0 215.2,309.5 219.2,314.8 222.2,318.3 226.2,322.4 233.2,328.2 239.2,332.0 245.2,335.1 252.2,337.8 259.2,339.8 267.2,341.5 277.2,342.9 288.2,344.0 300.2,344.7 325.2,345.3 362.2,345.6 632.2,345.7" stroke="url(#hg19)" stroke-width="2.0"/><polyline points="141.2,-9.4 147.2,32.1 153.2,71.5 159.2,108.4 164.2,137.1 170.2,168.8 175.2,192.8 180.2,214.6 185.2,234.0 190.2,251.3 196.2,269.2 201.2,281.9 207.2,294.7 213.2,305.2 216.2,309.7 220.2,315.0 223.2,318.5 227.2,322.6 234.2,328.4 240.2,332.2 246.2,335.2 253.2,338.0 260.2,340.0 268.2,341.7 278.2,343.1 289.2,344.2 301.2,344.8 326.2,345.5 363.2,345.8 632.2,345.9" stroke="url(#hg19)" stroke-width="2.0"/><polyline points="142.2,-9.1 148.2,32.4 154.2,71.8 160.2,108.7 165.2,137.4 171.2,169.1 176.2,193.1 181.2,214.8 186.2,234.3 191.2,251.5 197.2,269.4 202.2,282.1 208.2,294.9 214.2,305.4 217.2,309.9 221.2,315.2 224.2,318.7 228.2,322.8 235.2,328.6 241.2,332.4 247.2,335.4 254.2,338.1 261.2,340.2 269.2,341.9 279.2,343.3 290.2,344.3 302.2,345.0 327.2,345.7 364.2,346.0 632.2,346.1" stroke="url(#hg20)" stroke-width="2.0"/><polyline points="143.2,-8.8 149.2,32.7 155.2,72.0 161.2,109.0 166.2,137.6 172.2,169.3 177.2,193.3 182.2,215.1 187.2,234.5 192.2,251.8 198.2,269.6 203.2,282.3 209.2,295.1 215.2,305.7 218.2,310.1 222.2,315.4 225.2,318.9 229.2,323.0 236.2,328.8 242.2,332.6 248.2,335.6 255.2,338.3 262.2,340.4 270.2,342.1 280.2,343.5 291.2,344.5 303.2,345.2 328.2,345.9 365.2,346.2 632.2,346.2" stroke="url(#hg20)" stroke-width="2.0"/><polyline points="144.2,-8.5 150.2,32.9 156.2,72.3 162.2,109.2 167.2,137.9 173.2,169.6 178.2,193.6 183.2,215.3 188.2,234.8 193.2,252.0 199.2,269.8 204.2,282.5 210.2,295.3 216.2,305.9 219.2,310.4 223.2,315.6 226.2,319.1 230.2,323.2 237.2,329.0 243.2,332.8 249.2,335.8 256.2,338.5 263.2,340.6 271.2,342.2 281.2,343.7 292.2,344.7 304.2,345.4 329.2,346.1 366.2,346.4 632.2,346.4" stroke="url(#hg21)" stroke-width="2.0"/><polyline points="145.2,-8.3 151.2,33.2 157.2,72.6 163.2,109.5 168.2,138.2 174.2,169.8 179.2,193.8 184.2,215.6 189.2,235.0 194.2,252.2 200.2,270.1 205.2,282.7 211.2,295.6 217.2,306.1 220.2,310.6 224.2,315.8 227.2,319.3 231.2,323.4 238.2,329.2 244.2,333.0 250.2,336.0 257.2,338.7 264.2,340.7 272.2,342.4 282.2,343.9 293.2,344.9 305.2,345.6 330.2,346.3 367.2,346.5 632.2,346.6" stroke="url(#hg21)" stroke-width="2.0"/><polyline points="146.2,-8.0 152.2,33.5 158.2,72.9 164.2,109.8 169.2,138.4 175.2,170.1 180.2,194.1 185.2,215.8 190.2,235.2 195.2,252.5 201.2,270.3 206.2,283.0 212.2,295.8 218.2,306.3 221.2,310.8 225.2,316.0 228.2,319.5 232.2,323.6 239.2,329.4 245.2,333.2 251.2,336.2 258.2,338.9 265.2,340.9 273.2,342.6 283.2,344.1 294.2,345.1 306.2,345.8 330.2,346.4 367.2,346.7 632.2,346.8" stroke="url(#hg22)" stroke-width="2.0"/><polyline points="147.2,-7.7 153.2,33.8 159.2,73.2 165.2,110.0 170.2,138.7 176.2,170.4 181.2,194.3 186.2,216.0 191.2,235.5 196.2,252.7 202.2,270.5 207.2,283.2 213.2,296.0 219.2,306.5 222.2,311.0 226.2,316.3 229.2,319.7 233.2,323.8 240.2,329.6 246.2,333.4 252.2,336.4 259.2,339.1 266.2,341.1 274.2,342.8 284.2,344.3 295.2,345.3 307.2,346.0 331.2,346.6 368.2,346.9 632.2,347.0" stroke="url(#hg22)" stroke-width="2.0"/><polyline points="148.2,-7.4 154.2,34.1 160.2,73.4 166.2,110.3 171.2,139.0 177.2,170.6 182.2,194.6 187.2,216.3 192.2,235.8 197.2,253.0 203.2,270.8 208.2,283.5 214.2,296.3 220.2,306.8 226.2,315.3 229.2,318.9 233.2,323.1 236.2,325.9 240.2,329.1 246.2,333.1 252.2,336.2 259.2,339.0 266.2,341.1 274.2,342.9 284.2,344.4 295.2,345.5 307.2,346.2 331.2,346.9 368.2,347.2 632.2,347.2" stroke="url(#hg23)" stroke-width="2.0"/><polyline points="149.2,-7.1 155.2,34.4 161.2,73.7 167.2,110.6 172.2,139.3 178.2,170.9 183.2,194.9 188.2,216.6 193.2,236.0 198.2,253.2 204.2,271.1 209.2,283.7 215.2,296.5 221.2,307.0 227.2,315.5 230.2,319.1 234.2,323.4 237.2,326.1 241.2,329.4 247.2,333.3 253.2,336.5 260.2,339.3 267.2,341.4 275.2,343.2 285.2,344.7 296.2,345.7 308.2,346.4 332.2,347.1 369.2,347.4 632.2,347.5" stroke="url(#hg23)" stroke-width="2.0"/><polyline points="150.2,-6.8 156.2,34.7 162.2,74.0 168.2,110.9 173.2,139.6 179.2,171.2 184.2,195.2 189.2,216.9 194.2,236.3 199.2,253.5 205.2,271.4 210.2,284.0 216.2,296.8 222.2,307.3 228.2,315.8 231.2,319.4 235.2,323.6 238.2,326.4 242.2,329.6 248.2,333.6 254.2,336.7 261.2,339.6 268.2,341.7 276.2,343.4 286.2,344.9 297.2,346.0 309.2,346.7 333.2,347.4 370.2,347.7 632.2,347.8" stroke="#a40000" stroke-width="2.0"/><polyline points="151.2,-6.2 157.2,35.3 163.2,74.6 169.2,111.5 174.2,140.1 180.2,171.7 185.2,195.7 190.2,217.3 195.2,236.8 200.2,253.9 206.2,271.7 211.2,284.4 217.2,297.2 223.2,307.6 229.2,316.1 232.2,319.7 236.2,323.9 239.2,326.7 243.2,329.9 249.2,333.9 255.2,337.0 262.2,339.8 269.2,341.9 277.2,343.7 286.2,345.1 297.2,346.2 309.2,346.9 333.2,347.6 370.2,347.9 632.2,348.0" stroke="#a10000" stroke-width="2.0"/><polyline points="152.2,-5.6 158.2,35.8 164.2,75.1 170.2,112.0 175.2,140.6 181.2,172.2 186.2,196.1 191.2,217.8 196.2,237.2 201.2,254.3 207.2,272.1 212.2,284.7 218.2,297.5 224.2,308.0 230.2,316.4 233.2,320.0 237.2,324.2 240.2,327.0 244.2,330.2 250.2,334.2 256.2,337.3 263.2,340.1 270.2,342.2 278.2,343.9 287.2,345.3 298.2,346.4 310.2,347.2 334.2,347.9 371.2,348.2 632.2,348.3" stroke="#9d0000" stroke-width="2.0"/><polyline points="153.2,-5.0 159.2,36.4 165.2,75.7 171.2,112.5 176.2,141.1 182.2,172.7 187.2,196.6 192.2,218.2 197.2,237.6 202.2,254.7 208.2,272.5 213.2,285.1 219.2,297.8 225.2,308.3 231.2,316.7 234.2,320.3 238.2,324.5 241.2,327.3 245.2,330.5 251.2,334.5 257.2,337.6 264.2,340.4 271.2,342.5 279.2,344.2 288.2,345.6 299.2,346.7 311.2,347.4 335.2,348.1 372.2,348.5 632.2,348.5" stroke="#9a0000" stroke-width="2.0"/><polyline points="153.2,-11.5 160.2,36.9 166.2,76.2 172.2,113.0 177.2,141.6 183.2,173.2 188.2,197.0 193.2,218.7 198.2,238.0 203.2,255.1 209.2,272.9 214.2,285.5 220.2,298.2 226.2,308.6 232.2,317.1 235.2,320.6 239.2,324.8 242.2,327.6 246.2,330.8 252.2,334.7 258.2,337.8 265.2,340.6 272.2,342.7 280.2,344.5 289.2,345.8 300.2,346.9 312.2,347.7 336.2,348.4 373.2,348.7 632.2,348.8" stroke="#960000" stroke-width="2.0"/><polyline points="154.2,-11.0 161.2,37.5 167.2,76.8 173.2,113.6 178.2,142.1 184.2,173.6 189.2,197.5 194.2,219.1 199.2,238.4 204.2,255.5 210.2,273.2 215.2,285.8 221.2,298.5 227.2,308.9 233.2,317.4 236.2,320.9 240.2,325.1 243.2,327.9 247.2,331.1 253.2,335.0 259.2,338.1 266.2,340.9 273.2,343.0 281.2,344.7 290.2,346.1 301.2,347.2 313.2,347.9 337.2,348.6 374.2,349.0 632.2,349.0" stroke="#930000" stroke-width="2.0"/><polyline points="155.2,-10.4 161.2,31.3 167.2,70.9 173.2,108.1 178.2,137.1 184.2,169.1 189.2,193.4 194.2,215.4 199.2,235.2 204.2,252.7 210.2,270.9 215.2,283.8 221.2,296.9 227.2,307.7 233.2,316.4 236.2,320.1 240.2,324.4 243.2,327.3 247.2,330.6 253.2,334.7 259.2,337.9 266.2,340.8 273.2,343.0 281.2,344.8 290.2,346.2 301.2,347.4 313.2,348.2 337.2,348.9 374.2,349.2 632.2,349.3" stroke="#8f0000" stroke-width="2.0"/><polyline points="156.2,-9.8 162.2,31.9 168.2,71.5 174.2,108.7 179.2,137.6 185.2,169.6 190.2,193.8 195.2,215.9 200.2,235.6 205.2,253.1 211.2,271.3 216.2,284.2 222.2,297.3 228.2,308.0 234.2,316.7 237.2,320.4 241.2,324.7 244.2,327.6 248.2,330.9 254.2,335.0 260.2,338.2 267.2,341.1 274.2,343.3 282.2,345.1 291.2,346.5 302.2,347.6 314.2,348.4 338.2,349.1 375.2,349.5 632.2,349.5" stroke="#8c0000" stroke-width="2.0"/><polyline points="157.2,-9.2 163.2,32.4 169.2,72.0 175.2,109.2 180.2,138.1 186.2,170.1 191.2,194.3 196.2,216.3 201.2,236.0 206.2,253.5 212.2,271.6 217.2,284.5 223.2,297.6 229.2,308.3 235.2,317.0 238.2,320.7 242.2,325.0 245.2,327.9 249.2,331.2 255.2,335.3 261.2,338.5 268.2,341.4 275.2,343.5 283.2,345.3 292.2,346.8 303.2,347.9 315.2,348.7 339.2,349.4 376.2,349.7 632.2,349.8" stroke="#850000" stroke-width="2.0"/><polyline points="158.2,-8.7 164.2,33.0 170.2,72.6 176.2,109.7 181.2,138.6 187.2,170.5 192.2,194.8 197.2,216.7 202.2,236.4 207.2,253.9 213.2,272.0 218.2,284.9 224.2,297.9 230.2,308.6 236.2,317.3 239.2,321.0 243.2,325.3 246.2,328.2 250.2,331.5 256.2,335.5 262.2,338.8 269.2,341.6 276.2,343.8 284.2,345.6 293.2,347.0 304.2,348.2 316.2,348.9 340.2,349.6 377.2,350.0 632.2,350.1" stroke="#7e0000" stroke-width="2.0"/><polyline points="159.2,-8.1 165.2,33.6 171.2,73.1 177.2,110.2 182.2,139.1 188.2,171.0 193.2,195.2 198.2,217.2 203.2,236.9 208.2,254.3 214.2,272.4 219.2,285.3 225.2,298.3 231.2,309.0 237.2,317.6 240.2,321.3 244.2,325.6 247.2,328.5 251.2,331.8 257.2,335.8 263.2,339.0 270.2,341.9 277.2,344.1 285.2,345.9 294.2,347.3 305.2,348.4 317.2,349.2 341.2,349.9 378.2,350.2 632.2,350.3" stroke="#770000" stroke-width="2.0"/><polyline points="160.2,-7.5 166.2,34.1 172.2,73.7 178.2,110.8 183.2,139.6 189.2,171.5 194.2,195.7 199.2,217.6 204.2,237.3 209.2,254.7 215.2,272.8 220.2,285.6 226.2,298.6 232.2,309.3 238.2,318.0 241.2,321.6 245.2,325.9 248.2,328.8 252.2,332.0 258.2,336.1 264.2,339.3 271.2,342.2 278.2,344.3 286.2,346.1 295.2,347.5 306.2,348.7 318.2,349.4 342.2,350.2 379.2,350.5 632.2,350.6" stroke="#700000" stroke-width="2.0"/></g><g fill="none"><polyline points="92.2,418.3 116.2,419.3 144.2,420.0 219.2,420.9 331.2,421.2 632.2,421.2" stroke="#60ff00" stroke-width="2.2"/><polyline points="92.2,417.0 116.2,418.5 145.2,419.6 178.2,420.3 220.2,420.8 332.2,421.1 632.2,421.2" stroke="#60ff00" stroke-width="2.2"/><polyline points="92.2,415.8 117.2,417.7 145.2,419.1 178.2,420.0 220.2,420.6 332.2,421.1 632.2,421.2" stroke="#60ff00" stroke-width="2.2"/><polyline points="92.2,414.5 117.2,416.9 145.2,418.6 178.2,419.7 220.2,420.5 332.2,421.1 632.2,421.2" stroke="#60ff00" stroke-width="2.2"/><polyline points="92.2,413.3 117.2,416.1 145.2,418.1 178.2,419.5 220.2,420.4 267.2,420.8 332.2,421.1 632.2,421.2" stroke="#60ff00" stroke-width="2.2"/><polyline points="92.2,412.0 104.2,413.8 117.2,415.3 145.2,417.6 178.2,419.2 220.2,420.2 267.2,420.8 332.2,421.1 632.2,421.2" stroke="#60ff00" stroke-width="2.2"/><polyline points="92.2,417.0 116.2,417.8 144.2,418.4 219.2,419.1 331.2,419.4 632.2,419.4" stroke="#00e8ff" stroke-width="1.2"/><polyline points="92.2,417.8 144.2,418.8 219.2,419.2 632.2,419.4" stroke="#00d8ff" stroke-width="1.2"/><polyline points="92.2,418.6 144.2,419.1 219.2,419.3 632.2,419.4" stroke="#20c0ff" stroke-width="1.2"/><polyline points="92.2,419.4 632.2,419.4" stroke="#40a8ff" stroke-width="1.2"/><polyline points="92.2,420.8 144.2,421.9 219.2,422.4 632.2,422.6" stroke="#0000ff" stroke-width="1.6"/><polyline points="92.2,422.1 144.2,422.6 219.2,422.9 632.2,422.9" stroke="#0000ff" stroke-width="1.6"/><polyline points="92.2,423.3 632.2,423.3" stroke="#0000ff" stroke-width="1.6"/><polyline points="92.2,424.0 632.2,424.0" stroke="#7000e0" stroke-width="1.6"/><polyline points="92.2,424.5 632.2,424.5" stroke="#7000e0" stroke-width="1.6"/><polyline points="92.2,425.0 632.2,425.0" stroke="#7000e0" stroke-width="1.6"/><polyline points="92.2,425.5 632.2,425.5" stroke="#7000e0" stroke-width="1.6"/><polyline points="92.2,426.0 632.2,426.0" stroke="#7000e0" stroke-width="1.6"/><polyline points="92.2,426.3 632.2,426.3" stroke="#800090" stroke-width="1.6"/><polyline points="92.2,426.8 632.2,426.8" stroke="#800090" stroke-width="1.6"/><polyline points="92.2,427.3 632.2,427.3" stroke="#800090" stroke-width="1.6"/><polyline points="92.2,427.8 632.2,427.8" stroke="#800090" stroke-width="1.6"/></g></g>
<rect x="91.70" y="4.30" width="541.10" height="434.30" fill="none" stroke="#000" stroke-width="2"/><g font-family="Liberation Sans, sans-serif" fill="#000"><text transform="translate(76.2,20.0) scale(1,1.06)" text-anchor="end" font-size="20">16.0</text><text transform="translate(76.2,46.3) scale(1,1.06)" text-anchor="end" font-size="20">14.0</text><text transform="translate(76.2,76.7) scale(1,1.06)" text-anchor="end" font-size="20">12.0</text><text transform="translate(76.2,112.6) scale(1,1.06)" text-anchor="end" font-size="20">10.0</text><text transform="translate(76.2,156.5) scale(1,1.06)" text-anchor="end" font-size="20">8.0</text><text transform="translate(76.2,213.1) scale(1,1.06)" text-anchor="end" font-size="20">6.0</text><text transform="translate(76.2,292.9) scale(1,1.06)" text-anchor="end" font-size="20">4.0</text><text transform="translate(76.2,429.4) scale(1,1.06)" text-anchor="end" font-size="20">2.0</text><text x="167.7" y="471.3" text-anchor="middle" font-size="19.5">10<tspan font-size="12.5" dy="-9">1</tspan></text><text x="245.3" y="471.3" text-anchor="middle" font-size="19.5">10<tspan font-size="12.5" dy="-9">2</tspan></text><text x="322.9" y="471.3" text-anchor="middle" font-size="19.5">10<tspan font-size="12.5" dy="-9">3</tspan></text><text x="400.5" y="471.3" text-anchor="middle" font-size="19.5">10<tspan font-size="12.5" dy="-9">4</tspan></text><text x="478.1" y="471.3" text-anchor="middle" font-size="19.5">10<tspan font-size="12.5" dy="-9">5</tspan></text><text x="555.7" y="471.3" text-anchor="middle" font-size="19.5">10<tspan font-size="12.5" dy="-9">6</tspan></text><text x="633.3" y="471.3" text-anchor="middle" font-size="19.5">10<tspan font-size="12.5" dy="-9">7</tspan></text></g><g font-family="Liberation Sans, sans-serif"><rect x="538.7" y="2.6" width="91.9" height="204.9" rx="1" fill="#fff" stroke="#000" stroke-width="1.1"/><line x1="539" y1="15.6" x2="580.5" y2="15.6" stroke="#3a78ff" stroke-width="1.6"/><text x="584.8" y="21.8" font-size="18.8">250K</text><line x1="539" y1="38.4" x2="580.5" y2="38.4" stroke="#3ae8ff" stroke-width="1.6"/><text x="584.8" y="44.6" font-size="18.8">273K</text><line x1="539" y1="61.2" x2="580.5" y2="61.2" stroke="#3ae83a" stroke-width="1.6"/><text x="584.8" y="67.4" font-size="18.8">290K</text><line x1="539" y1="84.0" x2="580.5" y2="84.0" stroke="#d8f028" stroke-width="1.6"/><text x="584.8" y="90.2" font-size="18.8">290K</text><line x1="539" y1="106.8" x2="580.5" y2="106.8" stroke="#ffc830" stroke-width="1.6"/><text x="584.8" y="113.0" font-size="18.8">294K</text><line x1="539" y1="129.6" x2="580.5" y2="129.6" stroke="#ff4a2a" stroke-width="1.6"/><text x="584.8" y="135.8" font-size="18.8">300K</text><line x1="539" y1="152.4" x2="580.5" y2="152.4" stroke="#ff3838" stroke-width="1.6"/><text x="584.8" y="158.6" font-size="18.8">308K</text><line x1="539" y1="175.2" x2="580.5" y2="175.2" stroke="#e03434" stroke-width="1.6"/><text x="584.8" y="181.4" font-size="18.8">332K</text><line x1="539" y1="198.0" x2="580.5" y2="198.0" stroke="#8a2a2a" stroke-width="1.6"/><text x="584.8" y="204.2" font-size="18.8">371K</text></g>
<text transform="translate(310.3,132.6) scale(1.05,1)" font-size="34.6" fill="#ff0000" stroke="#ff0000" stroke-width="0.9" font-family="Liberation Sans, sans-serif">Liquid</text>
<text transform="translate(106,402.6) scale(1.04,1)" font-size="34" fill="#0000ff" stroke="#0000ff" stroke-width="0.9" font-family="Liberation Sans, sans-serif">Solid</text>
<text x="360" y="239.5" font-size="24.6" font-family="Liberation Sans, sans-serif">static domain:</text>
<text x="348.5" y="280" font-size="20.6" font-family="Liberation Sans, sans-serif">(<tspan font-style="italic">dielectric constant</tspan>)</text>
<line x1="348.9" y1="241.3" x2="305.6" y2="311.9" stroke="#000" stroke-width="1.2"/><polygon points="300.9,319.5 304.0,308.6 309.2,311.8" fill="#000"/><line x1="519.1" y1="236.5" x2="562.4" y2="312.8" stroke="#000" stroke-width="1.2"/><polygon points="566.8,320.5 558.8,312.5 564.0,309.5" fill="#000"/>
<g transform="translate(184.6,40.3) rotate(80.2)"><text x="0" y="0" font-size="24.2" font-family="Liberation Sans, sans-serif">ionic domain</text></g>
<line x1="426" y1="353.3" x2="426" y2="369.2" stroke="#b4b4b4" stroke-width="3"/>
<line x1="426" y1="391.4" x2="426" y2="402" stroke="#b4b4b4" stroke-width="3"/>
<polygon points="420.7,401 431.3,401 426,418.8" fill="#a8a8a8"/>
<text x="387.3" y="386.5" font-size="18.6" font-weight="bold" fill="#858585" font-family="Liberation Sans, sans-serif">melting</text>
<g font-size="36" font-family="Liberation Serif, serif"><text transform="translate(24.5,213.7) rotate(-90) scale(1.25,1)" font-style="italic">ε</text><text transform="translate(24.3,189.8) rotate(-90)" stroke="#000" stroke-width="0.5">'</text></g>
<text transform="translate(345,506.5) scale(1.2,1)" font-size="30" font-family="Liberation Serif, serif" font-style="italic">f</text><text x="363.9" y="502.6" font-size="25.5" font-family="Liberation Sans, sans-serif">(Hz)</text>

</svg></body></html>
